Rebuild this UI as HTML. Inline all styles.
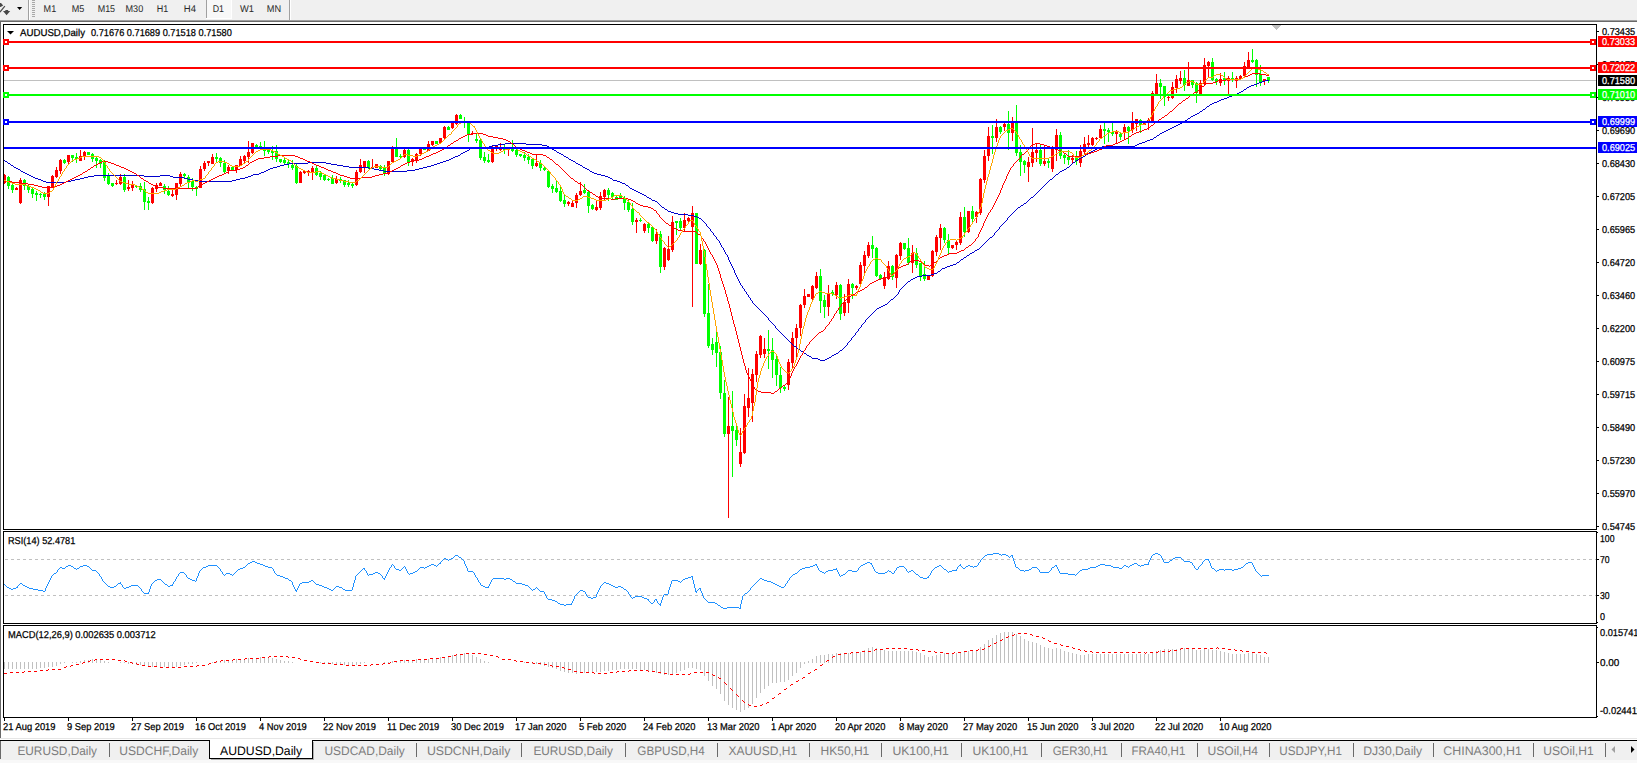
<!DOCTYPE html><html><head><meta charset="utf-8"><title>AUDUSD</title><style>html,body{margin:0;padding:0;background:#f0f0f0;overflow:hidden}svg{display:block}text{font-family:"Liberation Sans",sans-serif;white-space:pre;text-rendering:geometricPrecision}</style></head><body><svg width="1637" height="763" viewBox="0 0 1637 763"><rect x="0" y="0" width="1637" height="763" fill="#f0f0f0"/>
<rect x="0" y="20" width="1637" height="1" fill="#a0a0a0"/>
<rect x="0" y="21" width="1637" height="1" fill="#696969"/>
<rect x="0" y="22" width="1637" height="718" fill="#ffffff"/>
<rect x="0" y="21" width="1" height="718" fill="#696969"/>
<rect x="0" y="738" width="1637" height="1" fill="#e6e6e6"/>
<rect x="0" y="740" width="1637" height="1" fill="#000000"/>
<rect x="0" y="741" width="1637" height="19" fill="#f0f0f0"/>
<rect x="0" y="760" width="1637" height="3" fill="#f8f8f8"/>
<rect x="0" y="741" width="1" height="18" fill="#696969"/>
<g fill="#484848"><path d="M0 11 L4.4 5.8 L5.3 6.6 L0.6 12.2 L0 12.4 Z"/><path d="M0 3 L1 3 L3.2 5.4 L0.6 7 L0 7 Z"/><path d="M3 11.1 L5.2 10.9 L5.5 10 L8 10 L8.3 10.9 L10.2 11.1 L6.6 15.2 Z"/></g>
<path d="M17 7 L22.2 7 L19.6 10 Z" fill="#000"/>
<rect x="28" y="0" width="1" height="20" fill="#a0a0a0"/>
<rect x="29" y="0" width="1" height="20" fill="#ffffff"/>
<rect x="32" y="0" width="3" height="1" fill="#a8a8a8"/>
<rect x="32" y="2" width="3" height="1" fill="#a8a8a8"/>
<rect x="32" y="4" width="3" height="1" fill="#a8a8a8"/>
<rect x="32" y="6" width="3" height="1" fill="#a8a8a8"/>
<rect x="32" y="8" width="3" height="1" fill="#a8a8a8"/>
<rect x="32" y="10" width="3" height="1" fill="#a8a8a8"/>
<rect x="32" y="12" width="3" height="1" fill="#a8a8a8"/>
<rect x="32" y="14" width="3" height="1" fill="#a8a8a8"/>
<rect x="32" y="16" width="3" height="1" fill="#a8a8a8"/>
<rect x="206" y="0" width="1" height="18" fill="#a0a0a0"/>
<rect x="207" y="0" width="24" height="18" fill="#f8f8f8"/>
<rect x="206" y="18" width="26" height="1" fill="#ffffff"/>
<rect x="231" y="0" width="1" height="18" fill="#ffffff"/>
<rect x="289" y="0" width="1" height="20" fill="#a0a0a0"/>
<rect x="290" y="0" width="1" height="20" fill="#ffffff"/>
<text x="43.6" y="12" font-size="9.8" fill="#282828" textLength="12.6" lengthAdjust="spacingAndGlyphs">M1</text>
<text x="71.7" y="12" font-size="9.8" fill="#282828" textLength="12.6" lengthAdjust="spacingAndGlyphs">M5</text>
<text x="97.7" y="12" font-size="9.8" fill="#282828" textLength="17.4" lengthAdjust="spacingAndGlyphs">M15</text>
<text x="125.5" y="12" font-size="9.8" fill="#282828" textLength="17.7" lengthAdjust="spacingAndGlyphs">M30</text>
<text x="156.7" y="12" font-size="9.8" fill="#282828" textLength="11.5" lengthAdjust="spacingAndGlyphs">H1</text>
<text x="183.8" y="12" font-size="9.8" fill="#282828" textLength="12.2" lengthAdjust="spacingAndGlyphs">H4</text>
<text x="212.7" y="12" font-size="9.8" fill="#282828" textLength="11.3" lengthAdjust="spacingAndGlyphs">D1</text>
<text x="239.9" y="12" font-size="9.8" fill="#282828" textLength="14.0" lengthAdjust="spacingAndGlyphs">W1</text>
<text x="266.8" y="12" font-size="9.8" fill="#282828" textLength="14.3" lengthAdjust="spacingAndGlyphs">MN</text>
<rect x="3" y="24" width="1594" height="1" fill="#000000"/>
<rect x="3" y="529" width="1594" height="1" fill="#000000"/>
<rect x="3" y="24" width="1" height="506" fill="#000000"/>
<rect x="1596" y="24" width="1" height="506" fill="#000000"/>
<rect x="3" y="531" width="1594" height="1" fill="#000000"/>
<rect x="3" y="623" width="1594" height="1" fill="#000000"/>
<rect x="3" y="531" width="1" height="93" fill="#000000"/>
<rect x="1596" y="531" width="1" height="93" fill="#000000"/>
<rect x="3" y="625" width="1594" height="1" fill="#000000"/>
<rect x="3" y="717" width="1594" height="1" fill="#000000"/>
<rect x="3" y="625" width="1" height="93" fill="#000000"/>
<rect x="1596" y="625" width="1" height="93" fill="#000000"/>
<g shape-rendering="crispEdges">
<rect x="4" y="80" width="1592" height="1" fill="#c0c0c0"/>
<rect x="4" y="174" width="1" height="10" fill="#ff0000"/>
<rect x="4" y="175" width="2" height="8" fill="#ff0000"/>
<rect x="8" y="176" width="1" height="13" fill="#00ff00"/>
<rect x="7" y="177" width="3" height="9" fill="#00ff00"/>
<rect x="12" y="183" width="1" height="10" fill="#00ff00"/>
<rect x="11" y="185" width="3" height="5" fill="#00ff00"/>
<rect x="16" y="187" width="1" height="3" fill="#ff0000"/>
<rect x="15" y="188" width="3" height="2" fill="#ff0000"/>
<rect x="20" y="178" width="1" height="26" fill="#ff0000"/>
<rect x="19" y="180" width="3" height="23" fill="#ff0000"/>
<rect x="24" y="179" width="1" height="11" fill="#00ff00"/>
<rect x="23" y="180" width="3" height="6" fill="#00ff00"/>
<rect x="28" y="185" width="1" height="8" fill="#00ff00"/>
<rect x="27" y="186" width="3" height="4" fill="#00ff00"/>
<rect x="32" y="188" width="1" height="10" fill="#00ff00"/>
<rect x="31" y="189" width="3" height="5" fill="#00ff00"/>
<rect x="36" y="191" width="1" height="10" fill="#00ff00"/>
<rect x="35" y="193" width="3" height="2" fill="#00ff00"/>
<rect x="40" y="193" width="1" height="5" fill="#00ff00"/>
<rect x="39" y="194" width="3" height="1" fill="#00ff00"/>
<rect x="44" y="192" width="1" height="8" fill="#00ff00"/>
<rect x="43" y="194" width="3" height="3" fill="#00ff00"/>
<rect x="48" y="186" width="1" height="20" fill="#ff0000"/>
<rect x="47" y="186" width="3" height="11" fill="#ff0000"/>
<rect x="52" y="175" width="1" height="13" fill="#ff0000"/>
<rect x="51" y="176" width="3" height="12" fill="#ff0000"/>
<rect x="56" y="167" width="1" height="11" fill="#ff0000"/>
<rect x="55" y="170" width="3" height="7" fill="#ff0000"/>
<rect x="60" y="159" width="1" height="15" fill="#ff0000"/>
<rect x="59" y="160" width="3" height="11" fill="#ff0000"/>
<rect x="64" y="159" width="1" height="5" fill="#00ff00"/>
<rect x="63" y="160" width="3" height="3" fill="#00ff00"/>
<rect x="68" y="155" width="1" height="10" fill="#ff0000"/>
<rect x="67" y="155" width="3" height="7" fill="#ff0000"/>
<rect x="72" y="155" width="1" height="7" fill="#00ff00"/>
<rect x="71" y="155" width="3" height="3" fill="#00ff00"/>
<rect x="76" y="153" width="1" height="10" fill="#00ff00"/>
<rect x="75" y="157" width="3" height="2" fill="#00ff00"/>
<rect x="80" y="150" width="1" height="11" fill="#ff0000"/>
<rect x="79" y="156" width="3" height="5" fill="#ff0000"/>
<rect x="84" y="151" width="1" height="9" fill="#ff0000"/>
<rect x="83" y="152" width="3" height="4" fill="#ff0000"/>
<rect x="88" y="152" width="1" height="3" fill="#00ff00"/>
<rect x="87" y="152" width="3" height="3" fill="#00ff00"/>
<rect x="92" y="153" width="1" height="9" fill="#00ff00"/>
<rect x="91" y="154" width="3" height="5" fill="#00ff00"/>
<rect x="96" y="157" width="1" height="11" fill="#00ff00"/>
<rect x="95" y="158" width="3" height="3" fill="#00ff00"/>
<rect x="100" y="159" width="1" height="9" fill="#00ff00"/>
<rect x="99" y="160" width="3" height="4" fill="#00ff00"/>
<rect x="104" y="160" width="1" height="21" fill="#00ff00"/>
<rect x="103" y="162" width="3" height="16" fill="#00ff00"/>
<rect x="108" y="173" width="1" height="12" fill="#00ff00"/>
<rect x="107" y="175" width="3" height="9" fill="#00ff00"/>
<rect x="112" y="183" width="1" height="4" fill="#00ff00"/>
<rect x="111" y="183" width="3" height="3" fill="#00ff00"/>
<rect x="116" y="180" width="1" height="5" fill="#ff0000"/>
<rect x="115" y="183" width="3" height="1" fill="#ff0000"/>
<rect x="120" y="174" width="1" height="11" fill="#ff0000"/>
<rect x="119" y="177" width="3" height="7" fill="#ff0000"/>
<rect x="124" y="174" width="1" height="18" fill="#00ff00"/>
<rect x="123" y="177" width="3" height="13" fill="#00ff00"/>
<rect x="128" y="180" width="1" height="11" fill="#ff0000"/>
<rect x="127" y="187" width="3" height="2" fill="#ff0000"/>
<rect x="132" y="181" width="1" height="10" fill="#ff0000"/>
<rect x="131" y="184" width="3" height="4" fill="#ff0000"/>
<rect x="136" y="185" width="1" height="3" fill="#00ff00"/>
<rect x="135" y="186" width="3" height="1" fill="#00ff00"/>
<rect x="140" y="183" width="1" height="9" fill="#00ff00"/>
<rect x="139" y="186" width="3" height="4" fill="#00ff00"/>
<rect x="144" y="182" width="1" height="28" fill="#00ff00"/>
<rect x="143" y="189" width="3" height="13" fill="#00ff00"/>
<rect x="148" y="197" width="1" height="13" fill="#00ff00"/>
<rect x="147" y="201" width="3" height="2" fill="#00ff00"/>
<rect x="152" y="187" width="1" height="17" fill="#ff0000"/>
<rect x="151" y="188" width="3" height="15" fill="#ff0000"/>
<rect x="156" y="183" width="1" height="9" fill="#ff0000"/>
<rect x="155" y="185" width="3" height="4" fill="#ff0000"/>
<rect x="160" y="182" width="1" height="4" fill="#ff0000"/>
<rect x="159" y="183" width="3" height="3" fill="#ff0000"/>
<rect x="164" y="184" width="1" height="10" fill="#00ff00"/>
<rect x="163" y="186" width="3" height="4" fill="#00ff00"/>
<rect x="168" y="186" width="1" height="10" fill="#00ff00"/>
<rect x="167" y="191" width="3" height="4" fill="#00ff00"/>
<rect x="172" y="188" width="1" height="9" fill="#ff0000"/>
<rect x="171" y="194" width="3" height="2" fill="#ff0000"/>
<rect x="176" y="183" width="1" height="17" fill="#ff0000"/>
<rect x="175" y="183" width="3" height="12" fill="#ff0000"/>
<rect x="180" y="172" width="1" height="15" fill="#ff0000"/>
<rect x="179" y="174" width="3" height="10" fill="#ff0000"/>
<rect x="184" y="173" width="1" height="5" fill="#00ff00"/>
<rect x="183" y="174" width="3" height="2" fill="#00ff00"/>
<rect x="188" y="175" width="1" height="13" fill="#00ff00"/>
<rect x="187" y="177" width="3" height="5" fill="#00ff00"/>
<rect x="192" y="178" width="1" height="13" fill="#00ff00"/>
<rect x="191" y="181" width="3" height="6" fill="#00ff00"/>
<rect x="196" y="186" width="1" height="10" fill="#00ff00"/>
<rect x="195" y="187" width="3" height="2" fill="#00ff00"/>
<rect x="200" y="166" width="1" height="22" fill="#ff0000"/>
<rect x="199" y="169" width="3" height="19" fill="#ff0000"/>
<rect x="204" y="161" width="1" height="10" fill="#ff0000"/>
<rect x="203" y="163" width="3" height="6" fill="#ff0000"/>
<rect x="208" y="161" width="1" height="5" fill="#ff0000"/>
<rect x="207" y="161" width="3" height="2" fill="#ff0000"/>
<rect x="212" y="154" width="1" height="10" fill="#ff0000"/>
<rect x="211" y="157" width="3" height="7" fill="#ff0000"/>
<rect x="216" y="153" width="1" height="9" fill="#00ff00"/>
<rect x="215" y="157" width="3" height="2" fill="#00ff00"/>
<rect x="220" y="157" width="1" height="10" fill="#00ff00"/>
<rect x="219" y="158" width="3" height="5" fill="#00ff00"/>
<rect x="224" y="160" width="1" height="13" fill="#00ff00"/>
<rect x="223" y="163" width="3" height="9" fill="#00ff00"/>
<rect x="228" y="165" width="1" height="9" fill="#ff0000"/>
<rect x="227" y="167" width="3" height="4" fill="#ff0000"/>
<rect x="232" y="167" width="1" height="3" fill="#00ff00"/>
<rect x="231" y="167" width="3" height="3" fill="#00ff00"/>
<rect x="236" y="165" width="1" height="8" fill="#ff0000"/>
<rect x="235" y="165" width="3" height="5" fill="#ff0000"/>
<rect x="240" y="156" width="1" height="10" fill="#ff0000"/>
<rect x="239" y="159" width="3" height="7" fill="#ff0000"/>
<rect x="244" y="155" width="1" height="8" fill="#ff0000"/>
<rect x="243" y="156" width="3" height="5" fill="#ff0000"/>
<rect x="248" y="141" width="1" height="22" fill="#ff0000"/>
<rect x="247" y="152" width="3" height="5" fill="#ff0000"/>
<rect x="252" y="143" width="1" height="11" fill="#ff0000"/>
<rect x="251" y="143" width="3" height="10" fill="#ff0000"/>
<rect x="256" y="144" width="1" height="4" fill="#00ff00"/>
<rect x="255" y="145" width="3" height="3" fill="#00ff00"/>
<rect x="260" y="142" width="1" height="7" fill="#00ff00"/>
<rect x="259" y="146" width="3" height="2" fill="#00ff00"/>
<rect x="264" y="141" width="1" height="15" fill="#00ff00"/>
<rect x="263" y="149" width="3" height="2" fill="#00ff00"/>
<rect x="268" y="149" width="1" height="5" fill="#00ff00"/>
<rect x="267" y="150" width="3" height="2" fill="#00ff00"/>
<rect x="272" y="146" width="1" height="14" fill="#00ff00"/>
<rect x="271" y="151" width="3" height="2" fill="#00ff00"/>
<rect x="276" y="145" width="1" height="17" fill="#00ff00"/>
<rect x="275" y="151" width="3" height="8" fill="#00ff00"/>
<rect x="280" y="159" width="1" height="4" fill="#00ff00"/>
<rect x="279" y="159" width="3" height="3" fill="#00ff00"/>
<rect x="284" y="158" width="1" height="6" fill="#00ff00"/>
<rect x="283" y="160" width="3" height="3" fill="#00ff00"/>
<rect x="288" y="160" width="1" height="8" fill="#00ff00"/>
<rect x="287" y="162" width="3" height="2" fill="#00ff00"/>
<rect x="292" y="160" width="1" height="10" fill="#00ff00"/>
<rect x="291" y="165" width="3" height="3" fill="#00ff00"/>
<rect x="296" y="164" width="1" height="20" fill="#00ff00"/>
<rect x="295" y="166" width="3" height="17" fill="#00ff00"/>
<rect x="300" y="171" width="1" height="12" fill="#ff0000"/>
<rect x="299" y="172" width="3" height="11" fill="#ff0000"/>
<rect x="304" y="171" width="1" height="3" fill="#ff0000"/>
<rect x="303" y="171" width="3" height="2" fill="#ff0000"/>
<rect x="308" y="170" width="1" height="6" fill="#ff0000"/>
<rect x="307" y="171" width="3" height="2" fill="#ff0000"/>
<rect x="312" y="166" width="1" height="14" fill="#ff0000"/>
<rect x="311" y="168" width="3" height="5" fill="#ff0000"/>
<rect x="316" y="166" width="1" height="10" fill="#00ff00"/>
<rect x="315" y="168" width="3" height="7" fill="#00ff00"/>
<rect x="320" y="171" width="1" height="9" fill="#00ff00"/>
<rect x="319" y="173" width="3" height="4" fill="#00ff00"/>
<rect x="324" y="175" width="1" height="6" fill="#00ff00"/>
<rect x="323" y="175" width="3" height="5" fill="#00ff00"/>
<rect x="328" y="178" width="1" height="3" fill="#00ff00"/>
<rect x="327" y="179" width="3" height="1" fill="#00ff00"/>
<rect x="332" y="175" width="1" height="9" fill="#00ff00"/>
<rect x="331" y="178" width="3" height="6" fill="#00ff00"/>
<rect x="336" y="176" width="1" height="8" fill="#ff0000"/>
<rect x="335" y="179" width="3" height="4" fill="#ff0000"/>
<rect x="340" y="177" width="1" height="6" fill="#00ff00"/>
<rect x="339" y="179" width="3" height="2" fill="#00ff00"/>
<rect x="344" y="180" width="1" height="7" fill="#00ff00"/>
<rect x="343" y="180" width="3" height="5" fill="#00ff00"/>
<rect x="348" y="180" width="1" height="7" fill="#00ff00"/>
<rect x="347" y="183" width="3" height="2" fill="#00ff00"/>
<rect x="352" y="183" width="1" height="5" fill="#00ff00"/>
<rect x="351" y="184" width="3" height="2" fill="#00ff00"/>
<rect x="356" y="170" width="1" height="16" fill="#ff0000"/>
<rect x="355" y="172" width="3" height="13" fill="#ff0000"/>
<rect x="360" y="159" width="1" height="14" fill="#ff0000"/>
<rect x="359" y="165" width="3" height="7" fill="#ff0000"/>
<rect x="364" y="161" width="1" height="12" fill="#ff0000"/>
<rect x="363" y="161" width="3" height="6" fill="#ff0000"/>
<rect x="368" y="160" width="1" height="9" fill="#00ff00"/>
<rect x="367" y="161" width="3" height="7" fill="#00ff00"/>
<rect x="372" y="159" width="1" height="10" fill="#ff0000"/>
<rect x="371" y="167" width="3" height="1" fill="#ff0000"/>
<rect x="376" y="164" width="1" height="4" fill="#ff0000"/>
<rect x="375" y="164" width="3" height="4" fill="#ff0000"/>
<rect x="380" y="165" width="1" height="5" fill="#00ff00"/>
<rect x="379" y="166" width="3" height="3" fill="#00ff00"/>
<rect x="384" y="165" width="1" height="11" fill="#00ff00"/>
<rect x="383" y="168" width="3" height="6" fill="#00ff00"/>
<rect x="388" y="161" width="1" height="14" fill="#ff0000"/>
<rect x="387" y="161" width="3" height="13" fill="#ff0000"/>
<rect x="392" y="146" width="1" height="16" fill="#ff0000"/>
<rect x="391" y="149" width="3" height="13" fill="#ff0000"/>
<rect x="396" y="138" width="1" height="19" fill="#00ff00"/>
<rect x="395" y="149" width="3" height="8" fill="#00ff00"/>
<rect x="400" y="154" width="1" height="5" fill="#00ff00"/>
<rect x="399" y="156" width="3" height="1" fill="#00ff00"/>
<rect x="404" y="149" width="1" height="9" fill="#ff0000"/>
<rect x="403" y="150" width="3" height="7" fill="#ff0000"/>
<rect x="408" y="149" width="1" height="17" fill="#00ff00"/>
<rect x="407" y="150" width="3" height="12" fill="#00ff00"/>
<rect x="412" y="158" width="1" height="8" fill="#ff0000"/>
<rect x="411" y="159" width="3" height="3" fill="#ff0000"/>
<rect x="416" y="153" width="1" height="10" fill="#ff0000"/>
<rect x="415" y="154" width="3" height="6" fill="#ff0000"/>
<rect x="420" y="149" width="1" height="7" fill="#ff0000"/>
<rect x="419" y="149" width="3" height="5" fill="#ff0000"/>
<rect x="424" y="148" width="1" height="2" fill="#00ff00"/>
<rect x="423" y="149" width="3" height="1" fill="#00ff00"/>
<rect x="428" y="141" width="1" height="10" fill="#ff0000"/>
<rect x="427" y="144" width="3" height="7" fill="#ff0000"/>
<rect x="432" y="141" width="1" height="5" fill="#ff0000"/>
<rect x="431" y="141" width="3" height="4" fill="#ff0000"/>
<rect x="436" y="141" width="1" height="3" fill="#00ff00"/>
<rect x="435" y="141" width="3" height="3" fill="#00ff00"/>
<rect x="440" y="138" width="1" height="6" fill="#ff0000"/>
<rect x="439" y="138" width="3" height="5" fill="#ff0000"/>
<rect x="444" y="126" width="1" height="13" fill="#ff0000"/>
<rect x="443" y="127" width="3" height="11" fill="#ff0000"/>
<rect x="448" y="126" width="1" height="4" fill="#00ff00"/>
<rect x="447" y="127" width="3" height="3" fill="#00ff00"/>
<rect x="452" y="123" width="1" height="6" fill="#ff0000"/>
<rect x="451" y="123" width="3" height="5" fill="#ff0000"/>
<rect x="456" y="114" width="1" height="11" fill="#ff0000"/>
<rect x="455" y="115" width="3" height="9" fill="#ff0000"/>
<rect x="460" y="114" width="1" height="5" fill="#00ff00"/>
<rect x="459" y="115" width="3" height="4" fill="#00ff00"/>
<rect x="464" y="117" width="1" height="11" fill="#00ff00"/>
<rect x="463" y="121" width="3" height="1" fill="#00ff00"/>
<rect x="468" y="123" width="1" height="19" fill="#00ff00"/>
<rect x="467" y="123" width="3" height="11" fill="#00ff00"/>
<rect x="472" y="131" width="1" height="4" fill="#ff0000"/>
<rect x="471" y="133" width="3" height="1" fill="#ff0000"/>
<rect x="476" y="134" width="1" height="9" fill="#00ff00"/>
<rect x="475" y="139" width="3" height="2" fill="#00ff00"/>
<rect x="480" y="139" width="1" height="21" fill="#00ff00"/>
<rect x="479" y="140" width="3" height="18" fill="#00ff00"/>
<rect x="484" y="152" width="1" height="11" fill="#00ff00"/>
<rect x="483" y="157" width="3" height="4" fill="#00ff00"/>
<rect x="488" y="154" width="1" height="9" fill="#00ff00"/>
<rect x="487" y="160" width="3" height="2" fill="#00ff00"/>
<rect x="492" y="146" width="1" height="17" fill="#ff0000"/>
<rect x="491" y="147" width="3" height="15" fill="#ff0000"/>
<rect x="496" y="146" width="1" height="5" fill="#ff0000"/>
<rect x="495" y="146" width="3" height="1" fill="#ff0000"/>
<rect x="500" y="143" width="1" height="8" fill="#ff0000"/>
<rect x="499" y="147" width="3" height="3" fill="#ff0000"/>
<rect x="504" y="145" width="1" height="9" fill="#00ff00"/>
<rect x="503" y="148" width="3" height="2" fill="#00ff00"/>
<rect x="508" y="147" width="1" height="9" fill="#ff0000"/>
<rect x="507" y="147" width="3" height="2" fill="#ff0000"/>
<rect x="512" y="140" width="1" height="12" fill="#00ff00"/>
<rect x="511" y="149" width="3" height="2" fill="#00ff00"/>
<rect x="516" y="149" width="1" height="8" fill="#00ff00"/>
<rect x="515" y="150" width="3" height="5" fill="#00ff00"/>
<rect x="520" y="154" width="1" height="3" fill="#00ff00"/>
<rect x="519" y="154" width="3" height="2" fill="#00ff00"/>
<rect x="524" y="152" width="1" height="9" fill="#00ff00"/>
<rect x="523" y="155" width="3" height="3" fill="#00ff00"/>
<rect x="528" y="154" width="1" height="10" fill="#00ff00"/>
<rect x="527" y="157" width="3" height="3" fill="#00ff00"/>
<rect x="532" y="159" width="1" height="10" fill="#00ff00"/>
<rect x="531" y="159" width="3" height="7" fill="#00ff00"/>
<rect x="536" y="155" width="1" height="12" fill="#ff0000"/>
<rect x="535" y="163" width="3" height="3" fill="#ff0000"/>
<rect x="540" y="160" width="1" height="11" fill="#00ff00"/>
<rect x="539" y="163" width="3" height="5" fill="#00ff00"/>
<rect x="544" y="167" width="1" height="4" fill="#00ff00"/>
<rect x="543" y="168" width="3" height="2" fill="#00ff00"/>
<rect x="548" y="171" width="1" height="17" fill="#00ff00"/>
<rect x="547" y="171" width="3" height="16" fill="#00ff00"/>
<rect x="552" y="184" width="1" height="9" fill="#00ff00"/>
<rect x="551" y="186" width="3" height="3" fill="#00ff00"/>
<rect x="556" y="181" width="1" height="12" fill="#00ff00"/>
<rect x="555" y="188" width="3" height="4" fill="#00ff00"/>
<rect x="560" y="185" width="1" height="17" fill="#00ff00"/>
<rect x="559" y="191" width="3" height="10" fill="#00ff00"/>
<rect x="564" y="195" width="1" height="12" fill="#00ff00"/>
<rect x="563" y="200" width="3" height="4" fill="#00ff00"/>
<rect x="568" y="201" width="1" height="5" fill="#ff0000"/>
<rect x="567" y="202" width="3" height="2" fill="#ff0000"/>
<rect x="572" y="201" width="1" height="6" fill="#ff0000"/>
<rect x="571" y="203" width="3" height="4" fill="#ff0000"/>
<rect x="576" y="193" width="1" height="15" fill="#ff0000"/>
<rect x="575" y="195" width="3" height="8" fill="#ff0000"/>
<rect x="580" y="182" width="1" height="14" fill="#ff0000"/>
<rect x="579" y="191" width="3" height="4" fill="#ff0000"/>
<rect x="584" y="184" width="1" height="10" fill="#00ff00"/>
<rect x="583" y="190" width="3" height="3" fill="#00ff00"/>
<rect x="588" y="191" width="1" height="22" fill="#00ff00"/>
<rect x="587" y="192" width="3" height="14" fill="#00ff00"/>
<rect x="592" y="204" width="1" height="6" fill="#00ff00"/>
<rect x="591" y="205" width="3" height="4" fill="#00ff00"/>
<rect x="596" y="201" width="1" height="10" fill="#ff0000"/>
<rect x="595" y="207" width="3" height="3" fill="#ff0000"/>
<rect x="600" y="192" width="1" height="18" fill="#ff0000"/>
<rect x="599" y="196" width="3" height="12" fill="#ff0000"/>
<rect x="604" y="189" width="1" height="11" fill="#ff0000"/>
<rect x="603" y="190" width="3" height="7" fill="#ff0000"/>
<rect x="608" y="188" width="1" height="13" fill="#00ff00"/>
<rect x="607" y="190" width="3" height="5" fill="#00ff00"/>
<rect x="612" y="192" width="1" height="7" fill="#00ff00"/>
<rect x="611" y="193" width="3" height="4" fill="#00ff00"/>
<rect x="616" y="196" width="1" height="4" fill="#00ff00"/>
<rect x="615" y="197" width="3" height="3" fill="#00ff00"/>
<rect x="620" y="193" width="1" height="5" fill="#00ff00"/>
<rect x="619" y="196" width="3" height="2" fill="#00ff00"/>
<rect x="624" y="196" width="1" height="14" fill="#00ff00"/>
<rect x="623" y="199" width="3" height="4" fill="#00ff00"/>
<rect x="628" y="200" width="1" height="12" fill="#00ff00"/>
<rect x="627" y="202" width="3" height="8" fill="#00ff00"/>
<rect x="632" y="203" width="1" height="22" fill="#00ff00"/>
<rect x="631" y="209" width="3" height="13" fill="#00ff00"/>
<rect x="636" y="218" width="1" height="15" fill="#ff0000"/>
<rect x="635" y="220" width="3" height="2" fill="#ff0000"/>
<rect x="640" y="218" width="1" height="4" fill="#00ff00"/>
<rect x="639" y="220" width="3" height="1" fill="#00ff00"/>
<rect x="644" y="223" width="1" height="10" fill="#ff0000"/>
<rect x="643" y="224" width="3" height="7" fill="#ff0000"/>
<rect x="648" y="223" width="1" height="10" fill="#00ff00"/>
<rect x="647" y="224" width="3" height="4" fill="#00ff00"/>
<rect x="652" y="227" width="1" height="15" fill="#00ff00"/>
<rect x="651" y="227" width="3" height="14" fill="#00ff00"/>
<rect x="656" y="229" width="1" height="15" fill="#ff0000"/>
<rect x="655" y="234" width="3" height="7" fill="#ff0000"/>
<rect x="660" y="231" width="1" height="42" fill="#00ff00"/>
<rect x="659" y="234" width="3" height="33" fill="#00ff00"/>
<rect x="664" y="247" width="1" height="23" fill="#ff0000"/>
<rect x="663" y="248" width="3" height="19" fill="#ff0000"/>
<rect x="668" y="236" width="1" height="25" fill="#ff0000"/>
<rect x="667" y="249" width="3" height="11" fill="#ff0000"/>
<rect x="672" y="216" width="1" height="36" fill="#ff0000"/>
<rect x="671" y="222" width="3" height="28" fill="#ff0000"/>
<rect x="676" y="221" width="1" height="14" fill="#00ff00"/>
<rect x="675" y="221" width="3" height="2" fill="#00ff00"/>
<rect x="680" y="218" width="1" height="13" fill="#00ff00"/>
<rect x="679" y="221" width="3" height="7" fill="#00ff00"/>
<rect x="684" y="213" width="1" height="19" fill="#ff0000"/>
<rect x="683" y="220" width="3" height="8" fill="#ff0000"/>
<rect x="688" y="217" width="1" height="5" fill="#ff0000"/>
<rect x="687" y="218" width="3" height="3" fill="#ff0000"/>
<rect x="692" y="206" width="1" height="101" fill="#ff0000"/>
<rect x="691" y="213" width="3" height="14" fill="#ff0000"/>
<rect x="696" y="213" width="1" height="51" fill="#00ff00"/>
<rect x="695" y="213" width="3" height="51" fill="#00ff00"/>
<rect x="700" y="244" width="1" height="21" fill="#ff0000"/>
<rect x="699" y="250" width="3" height="14" fill="#ff0000"/>
<rect x="704" y="249" width="1" height="68" fill="#00ff00"/>
<rect x="703" y="250" width="3" height="64" fill="#00ff00"/>
<rect x="708" y="284" width="1" height="64" fill="#00ff00"/>
<rect x="707" y="313" width="3" height="33" fill="#00ff00"/>
<rect x="712" y="338" width="1" height="17" fill="#00ff00"/>
<rect x="711" y="344" width="3" height="6" fill="#00ff00"/>
<rect x="716" y="329" width="1" height="38" fill="#00ff00"/>
<rect x="715" y="342" width="3" height="11" fill="#00ff00"/>
<rect x="720" y="346" width="1" height="53" fill="#00ff00"/>
<rect x="719" y="352" width="3" height="41" fill="#00ff00"/>
<rect x="724" y="380" width="1" height="57" fill="#00ff00"/>
<rect x="723" y="393" width="3" height="41" fill="#00ff00"/>
<rect x="728" y="397" width="1" height="121" fill="#ff0000"/>
<rect x="727" y="426" width="3" height="8" fill="#ff0000"/>
<rect x="732" y="391" width="1" height="86" fill="#00ff00"/>
<rect x="731" y="426" width="3" height="5" fill="#00ff00"/>
<rect x="736" y="426" width="1" height="20" fill="#00ff00"/>
<rect x="735" y="430" width="3" height="10" fill="#00ff00"/>
<rect x="740" y="428" width="1" height="39" fill="#ff0000"/>
<rect x="739" y="452" width="3" height="12" fill="#ff0000"/>
<rect x="744" y="394" width="1" height="60" fill="#ff0000"/>
<rect x="743" y="406" width="3" height="47" fill="#ff0000"/>
<rect x="748" y="368" width="1" height="49" fill="#ff0000"/>
<rect x="747" y="398" width="3" height="10" fill="#ff0000"/>
<rect x="752" y="369" width="1" height="53" fill="#ff0000"/>
<rect x="751" y="374" width="3" height="29" fill="#ff0000"/>
<rect x="756" y="351" width="1" height="31" fill="#ff0000"/>
<rect x="755" y="354" width="3" height="21" fill="#ff0000"/>
<rect x="760" y="335" width="1" height="23" fill="#ff0000"/>
<rect x="759" y="336" width="3" height="19" fill="#ff0000"/>
<rect x="764" y="338" width="1" height="20" fill="#ff0000"/>
<rect x="763" y="349" width="3" height="5" fill="#ff0000"/>
<rect x="768" y="330" width="1" height="39" fill="#00ff00"/>
<rect x="767" y="349" width="3" height="2" fill="#00ff00"/>
<rect x="772" y="338" width="1" height="40" fill="#00ff00"/>
<rect x="771" y="350" width="3" height="10" fill="#00ff00"/>
<rect x="776" y="356" width="1" height="30" fill="#00ff00"/>
<rect x="775" y="359" width="3" height="16" fill="#00ff00"/>
<rect x="780" y="367" width="1" height="26" fill="#00ff00"/>
<rect x="779" y="375" width="3" height="13" fill="#00ff00"/>
<rect x="784" y="385" width="1" height="6" fill="#00ff00"/>
<rect x="783" y="387" width="3" height="2" fill="#00ff00"/>
<rect x="788" y="359" width="1" height="31" fill="#ff0000"/>
<rect x="787" y="362" width="3" height="23" fill="#ff0000"/>
<rect x="792" y="332" width="1" height="37" fill="#ff0000"/>
<rect x="791" y="338" width="3" height="25" fill="#ff0000"/>
<rect x="796" y="324" width="1" height="33" fill="#ff0000"/>
<rect x="795" y="328" width="3" height="10" fill="#ff0000"/>
<rect x="800" y="304" width="1" height="32" fill="#ff0000"/>
<rect x="799" y="305" width="3" height="23" fill="#ff0000"/>
<rect x="804" y="289" width="1" height="19" fill="#ff0000"/>
<rect x="803" y="296" width="3" height="9" fill="#ff0000"/>
<rect x="808" y="294" width="1" height="3" fill="#ff0000"/>
<rect x="807" y="294" width="3" height="3" fill="#ff0000"/>
<rect x="812" y="285" width="1" height="16" fill="#ff0000"/>
<rect x="811" y="286" width="3" height="13" fill="#ff0000"/>
<rect x="816" y="272" width="1" height="17" fill="#ff0000"/>
<rect x="815" y="276" width="3" height="12" fill="#ff0000"/>
<rect x="820" y="269" width="1" height="44" fill="#00ff00"/>
<rect x="819" y="276" width="3" height="25" fill="#00ff00"/>
<rect x="824" y="295" width="1" height="23" fill="#00ff00"/>
<rect x="823" y="300" width="3" height="7" fill="#00ff00"/>
<rect x="828" y="285" width="1" height="31" fill="#ff0000"/>
<rect x="827" y="293" width="3" height="14" fill="#ff0000"/>
<rect x="832" y="290" width="1" height="6" fill="#00ff00"/>
<rect x="831" y="292" width="3" height="2" fill="#00ff00"/>
<rect x="836" y="282" width="1" height="17" fill="#ff0000"/>
<rect x="835" y="285" width="3" height="10" fill="#ff0000"/>
<rect x="840" y="284" width="1" height="36" fill="#00ff00"/>
<rect x="839" y="285" width="3" height="29" fill="#00ff00"/>
<rect x="844" y="294" width="1" height="22" fill="#ff0000"/>
<rect x="843" y="302" width="3" height="11" fill="#ff0000"/>
<rect x="848" y="279" width="1" height="34" fill="#ff0000"/>
<rect x="847" y="284" width="3" height="19" fill="#ff0000"/>
<rect x="852" y="283" width="1" height="16" fill="#00ff00"/>
<rect x="851" y="284" width="3" height="4" fill="#00ff00"/>
<rect x="856" y="285" width="1" height="5" fill="#ff0000"/>
<rect x="855" y="286" width="3" height="2" fill="#ff0000"/>
<rect x="860" y="262" width="1" height="23" fill="#ff0000"/>
<rect x="859" y="265" width="3" height="19" fill="#ff0000"/>
<rect x="864" y="251" width="1" height="22" fill="#ff0000"/>
<rect x="863" y="255" width="3" height="11" fill="#ff0000"/>
<rect x="868" y="242" width="1" height="16" fill="#ff0000"/>
<rect x="867" y="245" width="3" height="11" fill="#ff0000"/>
<rect x="872" y="236" width="1" height="22" fill="#00ff00"/>
<rect x="871" y="245" width="3" height="4" fill="#00ff00"/>
<rect x="876" y="247" width="1" height="30" fill="#00ff00"/>
<rect x="875" y="248" width="3" height="28" fill="#00ff00"/>
<rect x="880" y="274" width="1" height="5" fill="#00ff00"/>
<rect x="879" y="275" width="3" height="4" fill="#00ff00"/>
<rect x="884" y="272" width="1" height="17" fill="#ff0000"/>
<rect x="883" y="277" width="3" height="9" fill="#ff0000"/>
<rect x="888" y="261" width="1" height="19" fill="#ff0000"/>
<rect x="887" y="266" width="3" height="13" fill="#ff0000"/>
<rect x="892" y="265" width="1" height="15" fill="#00ff00"/>
<rect x="891" y="266" width="3" height="11" fill="#00ff00"/>
<rect x="896" y="254" width="1" height="34" fill="#ff0000"/>
<rect x="895" y="255" width="3" height="23" fill="#ff0000"/>
<rect x="900" y="242" width="1" height="18" fill="#ff0000"/>
<rect x="899" y="243" width="3" height="13" fill="#ff0000"/>
<rect x="904" y="243" width="1" height="7" fill="#00ff00"/>
<rect x="903" y="243" width="3" height="6" fill="#00ff00"/>
<rect x="908" y="238" width="1" height="27" fill="#00ff00"/>
<rect x="907" y="248" width="3" height="15" fill="#00ff00"/>
<rect x="912" y="245" width="1" height="28" fill="#ff0000"/>
<rect x="911" y="253" width="3" height="10" fill="#ff0000"/>
<rect x="916" y="248" width="1" height="20" fill="#00ff00"/>
<rect x="915" y="253" width="3" height="12" fill="#00ff00"/>
<rect x="920" y="263" width="1" height="18" fill="#00ff00"/>
<rect x="919" y="263" width="3" height="13" fill="#00ff00"/>
<rect x="924" y="261" width="1" height="20" fill="#00ff00"/>
<rect x="923" y="274" width="3" height="5" fill="#00ff00"/>
<rect x="928" y="275" width="1" height="5" fill="#ff0000"/>
<rect x="927" y="276" width="3" height="4" fill="#ff0000"/>
<rect x="932" y="250" width="1" height="27" fill="#ff0000"/>
<rect x="931" y="251" width="3" height="25" fill="#ff0000"/>
<rect x="936" y="235" width="1" height="21" fill="#ff0000"/>
<rect x="935" y="237" width="3" height="15" fill="#ff0000"/>
<rect x="940" y="224" width="1" height="26" fill="#ff0000"/>
<rect x="939" y="228" width="3" height="10" fill="#ff0000"/>
<rect x="944" y="227" width="1" height="16" fill="#00ff00"/>
<rect x="943" y="228" width="3" height="12" fill="#00ff00"/>
<rect x="948" y="234" width="1" height="20" fill="#00ff00"/>
<rect x="947" y="240" width="3" height="8" fill="#00ff00"/>
<rect x="952" y="245" width="1" height="4" fill="#ff0000"/>
<rect x="951" y="245" width="3" height="3" fill="#ff0000"/>
<rect x="956" y="241" width="1" height="9" fill="#ff0000"/>
<rect x="955" y="242" width="3" height="3" fill="#ff0000"/>
<rect x="960" y="212" width="1" height="33" fill="#ff0000"/>
<rect x="959" y="217" width="3" height="26" fill="#ff0000"/>
<rect x="964" y="207" width="1" height="30" fill="#00ff00"/>
<rect x="963" y="217" width="3" height="15" fill="#00ff00"/>
<rect x="968" y="211" width="1" height="22" fill="#ff0000"/>
<rect x="967" y="211" width="3" height="21" fill="#ff0000"/>
<rect x="972" y="206" width="1" height="18" fill="#00ff00"/>
<rect x="971" y="211" width="3" height="8" fill="#00ff00"/>
<rect x="976" y="211" width="1" height="12" fill="#ff0000"/>
<rect x="975" y="212" width="3" height="5" fill="#ff0000"/>
<rect x="980" y="178" width="1" height="37" fill="#ff0000"/>
<rect x="979" y="179" width="3" height="34" fill="#ff0000"/>
<rect x="984" y="150" width="1" height="33" fill="#ff0000"/>
<rect x="983" y="156" width="3" height="24" fill="#ff0000"/>
<rect x="988" y="127" width="1" height="34" fill="#ff0000"/>
<rect x="987" y="136" width="3" height="20" fill="#ff0000"/>
<rect x="992" y="125" width="1" height="29" fill="#00ff00"/>
<rect x="991" y="136" width="3" height="2" fill="#00ff00"/>
<rect x="996" y="119" width="1" height="23" fill="#ff0000"/>
<rect x="995" y="127" width="3" height="11" fill="#ff0000"/>
<rect x="1000" y="126" width="1" height="8" fill="#00ff00"/>
<rect x="999" y="127" width="3" height="5" fill="#00ff00"/>
<rect x="1004" y="123" width="1" height="8" fill="#ff0000"/>
<rect x="1003" y="124" width="3" height="3" fill="#ff0000"/>
<rect x="1008" y="111" width="1" height="39" fill="#00ff00"/>
<rect x="1007" y="124" width="3" height="9" fill="#00ff00"/>
<rect x="1012" y="117" width="1" height="24" fill="#ff0000"/>
<rect x="1011" y="123" width="3" height="10" fill="#ff0000"/>
<rect x="1016" y="105" width="1" height="51" fill="#00ff00"/>
<rect x="1015" y="123" width="3" height="30" fill="#00ff00"/>
<rect x="1020" y="145" width="1" height="31" fill="#00ff00"/>
<rect x="1019" y="152" width="3" height="10" fill="#00ff00"/>
<rect x="1024" y="160" width="1" height="13" fill="#00ff00"/>
<rect x="1023" y="161" width="3" height="4" fill="#00ff00"/>
<rect x="1028" y="157" width="1" height="25" fill="#ff0000"/>
<rect x="1027" y="162" width="3" height="5" fill="#ff0000"/>
<rect x="1032" y="128" width="1" height="39" fill="#ff0000"/>
<rect x="1031" y="152" width="3" height="11" fill="#ff0000"/>
<rect x="1036" y="143" width="1" height="19" fill="#ff0000"/>
<rect x="1035" y="150" width="3" height="3" fill="#ff0000"/>
<rect x="1040" y="145" width="1" height="21" fill="#00ff00"/>
<rect x="1039" y="150" width="3" height="14" fill="#00ff00"/>
<rect x="1044" y="146" width="1" height="20" fill="#ff0000"/>
<rect x="1043" y="161" width="3" height="3" fill="#ff0000"/>
<rect x="1048" y="158" width="1" height="10" fill="#00ff00"/>
<rect x="1047" y="161" width="3" height="2" fill="#00ff00"/>
<rect x="1052" y="146" width="1" height="26" fill="#ff0000"/>
<rect x="1051" y="149" width="3" height="20" fill="#ff0000"/>
<rect x="1056" y="129" width="1" height="32" fill="#ff0000"/>
<rect x="1055" y="135" width="3" height="14" fill="#ff0000"/>
<rect x="1060" y="132" width="1" height="27" fill="#00ff00"/>
<rect x="1059" y="135" width="3" height="21" fill="#00ff00"/>
<rect x="1064" y="153" width="1" height="11" fill="#00ff00"/>
<rect x="1063" y="155" width="3" height="3" fill="#00ff00"/>
<rect x="1068" y="150" width="1" height="15" fill="#00ff00"/>
<rect x="1067" y="157" width="3" height="3" fill="#00ff00"/>
<rect x="1072" y="155" width="1" height="8" fill="#ff0000"/>
<rect x="1071" y="158" width="3" height="2" fill="#ff0000"/>
<rect x="1076" y="151" width="1" height="14" fill="#00ff00"/>
<rect x="1075" y="158" width="3" height="3" fill="#00ff00"/>
<rect x="1080" y="145" width="1" height="22" fill="#ff0000"/>
<rect x="1079" y="151" width="3" height="12" fill="#ff0000"/>
<rect x="1084" y="137" width="1" height="18" fill="#ff0000"/>
<rect x="1083" y="144" width="3" height="8" fill="#ff0000"/>
<rect x="1088" y="135" width="1" height="12" fill="#ff0000"/>
<rect x="1087" y="143" width="3" height="2" fill="#ff0000"/>
<rect x="1092" y="137" width="1" height="9" fill="#ff0000"/>
<rect x="1091" y="138" width="3" height="7" fill="#ff0000"/>
<rect x="1096" y="137" width="1" height="3" fill="#ff0000"/>
<rect x="1095" y="138" width="3" height="1" fill="#ff0000"/>
<rect x="1100" y="125" width="1" height="14" fill="#ff0000"/>
<rect x="1099" y="129" width="3" height="9" fill="#ff0000"/>
<rect x="1104" y="123" width="1" height="21" fill="#00ff00"/>
<rect x="1103" y="129" width="3" height="2" fill="#00ff00"/>
<rect x="1108" y="128" width="1" height="14" fill="#00ff00"/>
<rect x="1107" y="130" width="3" height="2" fill="#00ff00"/>
<rect x="1112" y="123" width="1" height="13" fill="#00ff00"/>
<rect x="1111" y="132" width="3" height="2" fill="#00ff00"/>
<rect x="1116" y="130" width="1" height="14" fill="#ff0000"/>
<rect x="1115" y="132" width="3" height="2" fill="#ff0000"/>
<rect x="1120" y="133" width="1" height="7" fill="#00ff00"/>
<rect x="1119" y="134" width="3" height="3" fill="#00ff00"/>
<rect x="1124" y="124" width="1" height="15" fill="#ff0000"/>
<rect x="1123" y="127" width="3" height="6" fill="#ff0000"/>
<rect x="1128" y="126" width="1" height="18" fill="#00ff00"/>
<rect x="1127" y="127" width="3" height="4" fill="#00ff00"/>
<rect x="1132" y="112" width="1" height="21" fill="#ff0000"/>
<rect x="1131" y="122" width="3" height="8" fill="#ff0000"/>
<rect x="1136" y="119" width="1" height="12" fill="#ff0000"/>
<rect x="1135" y="119" width="3" height="5" fill="#ff0000"/>
<rect x="1140" y="119" width="1" height="14" fill="#00ff00"/>
<rect x="1139" y="120" width="3" height="5" fill="#00ff00"/>
<rect x="1144" y="123" width="1" height="2" fill="#ff0000"/>
<rect x="1143" y="123" width="3" height="2" fill="#ff0000"/>
<rect x="1148" y="118" width="1" height="12" fill="#ff0000"/>
<rect x="1147" y="120" width="3" height="3" fill="#ff0000"/>
<rect x="1152" y="91" width="1" height="31" fill="#ff0000"/>
<rect x="1151" y="93" width="3" height="28" fill="#ff0000"/>
<rect x="1156" y="74" width="1" height="20" fill="#ff0000"/>
<rect x="1155" y="83" width="3" height="11" fill="#ff0000"/>
<rect x="1160" y="79" width="1" height="20" fill="#00ff00"/>
<rect x="1159" y="83" width="3" height="4" fill="#00ff00"/>
<rect x="1164" y="86" width="1" height="20" fill="#00ff00"/>
<rect x="1163" y="86" width="3" height="11" fill="#00ff00"/>
<rect x="1168" y="96" width="1" height="5" fill="#ff0000"/>
<rect x="1167" y="97" width="3" height="1" fill="#ff0000"/>
<rect x="1172" y="82" width="1" height="17" fill="#ff0000"/>
<rect x="1171" y="87" width="3" height="11" fill="#ff0000"/>
<rect x="1176" y="75" width="1" height="18" fill="#ff0000"/>
<rect x="1175" y="79" width="3" height="9" fill="#ff0000"/>
<rect x="1180" y="71" width="1" height="13" fill="#ff0000"/>
<rect x="1179" y="78" width="3" height="3" fill="#ff0000"/>
<rect x="1184" y="70" width="1" height="21" fill="#00ff00"/>
<rect x="1183" y="78" width="3" height="7" fill="#00ff00"/>
<rect x="1188" y="62" width="1" height="24" fill="#ff0000"/>
<rect x="1187" y="80" width="3" height="6" fill="#ff0000"/>
<rect x="1192" y="80" width="1" height="8" fill="#00ff00"/>
<rect x="1191" y="80" width="3" height="5" fill="#00ff00"/>
<rect x="1196" y="82" width="1" height="21" fill="#00ff00"/>
<rect x="1195" y="83" width="3" height="10" fill="#00ff00"/>
<rect x="1200" y="80" width="1" height="14" fill="#ff0000"/>
<rect x="1199" y="83" width="3" height="11" fill="#ff0000"/>
<rect x="1204" y="58" width="1" height="28" fill="#ff0000"/>
<rect x="1203" y="65" width="3" height="19" fill="#ff0000"/>
<rect x="1208" y="61" width="1" height="16" fill="#ff0000"/>
<rect x="1207" y="62" width="3" height="4" fill="#ff0000"/>
<rect x="1212" y="58" width="1" height="23" fill="#00ff00"/>
<rect x="1211" y="62" width="3" height="18" fill="#00ff00"/>
<rect x="1216" y="78" width="1" height="7" fill="#00ff00"/>
<rect x="1215" y="79" width="3" height="3" fill="#00ff00"/>
<rect x="1220" y="73" width="1" height="13" fill="#ff0000"/>
<rect x="1219" y="79" width="3" height="4" fill="#ff0000"/>
<rect x="1224" y="72" width="1" height="13" fill="#00ff00"/>
<rect x="1223" y="78" width="3" height="3" fill="#00ff00"/>
<rect x="1228" y="76" width="1" height="18" fill="#ff0000"/>
<rect x="1227" y="78" width="3" height="3" fill="#ff0000"/>
<rect x="1232" y="72" width="1" height="10" fill="#00ff00"/>
<rect x="1231" y="78" width="3" height="2" fill="#00ff00"/>
<rect x="1236" y="76" width="1" height="12" fill="#ff0000"/>
<rect x="1235" y="78" width="3" height="3" fill="#ff0000"/>
<rect x="1240" y="75" width="1" height="4" fill="#ff0000"/>
<rect x="1239" y="76" width="3" height="3" fill="#ff0000"/>
<rect x="1244" y="62" width="1" height="14" fill="#ff0000"/>
<rect x="1243" y="66" width="3" height="10" fill="#ff0000"/>
<rect x="1248" y="52" width="1" height="17" fill="#ff0000"/>
<rect x="1247" y="60" width="3" height="8" fill="#ff0000"/>
<rect x="1252" y="49" width="1" height="14" fill="#00ff00"/>
<rect x="1251" y="60" width="3" height="2" fill="#00ff00"/>
<rect x="1256" y="59" width="1" height="28" fill="#00ff00"/>
<rect x="1255" y="60" width="3" height="15" fill="#00ff00"/>
<rect x="1260" y="65" width="1" height="21" fill="#00ff00"/>
<rect x="1259" y="74" width="3" height="8" fill="#00ff00"/>
<rect x="1264" y="79" width="1" height="6" fill="#ff0000"/>
<rect x="1263" y="79" width="3" height="2" fill="#ff0000"/>
<rect x="1268" y="77" width="1" height="6" fill="#00ff00"/>
<rect x="1267" y="77" width="3" height="4" fill="#00ff00"/>
</g>
<path d="M4 160h1v1h-1zM5 161h2v1h-2zM7 162h1v1h-1zM8 163h2v1h-2zM10 164h1v1h-1zM11 165h2v1h-2zM13 166h1v1h-1zM14 167h2v1h-2zM16 168h2v1h-2zM18 169h2v1h-2zM20 170h1v1h-1zM21 171h2v1h-2zM23 172h2v1h-2zM25 173h2v1h-2zM27 174h2v1h-2zM29 175h2v1h-2zM31 176h2v1h-2zM33 177h2v1h-2zM35 178h3v1h-3zM38 179h3v1h-3zM41 180h2v1h-2zM43 181h3v1h-3zM46 182h20v1h-20zM66 181h5v1h-5zM71 180h4v1h-4zM75 179h5v1h-5zM80 178h4v1h-4zM84 177h4v1h-4zM88 176h6v1h-6zM94 175h50v1h-50zM144 176h16v1h-16zM160 175h10v1h-10zM170 176h3v1h-3zM173 177h11v1h-11zM184 178h4v1h-4zM188 179h5v1h-5zM193 180h6v1h-6zM199 181h33v1h-33zM232 180h4v1h-4zM236 179h4v1h-4zM240 178h5v1h-5zM245 177h3v1h-3zM248 176h3v1h-3zM251 175h2v1h-2zM253 174h6v1h-6zM259 173h2v1h-2zM261 172h3v1h-3zM264 171h2v1h-2zM266 170h2v1h-2zM268 169h2v1h-2zM270 168h3v1h-3zM273 167h4v1h-4zM277 166h3v1h-3zM280 165h4v1h-4zM284 164h5v1h-5zM289 163h19v1h-19zM308 162h18v1h-18zM326 163h5v1h-5zM331 164h6v1h-6zM337 165h6v1h-6zM343 166h6v1h-6zM349 167h20v1h-20zM369 168h5v1h-5zM374 169h5v1h-5zM379 170h5v1h-5zM384 171h23v1h-23zM407 170h8v1h-8zM415 169h4v1h-4zM419 168h4v1h-4zM423 167h4v1h-4zM427 166h4v1h-4zM431 165h3v1h-3zM434 164h3v1h-3zM437 163h3v1h-3zM440 162h3v1h-3zM443 161h3v1h-3zM446 160h3v1h-3zM449 159h2v1h-2zM451 158h2v1h-2zM453 157h2v1h-2zM455 156h3v1h-3zM458 155h2v1h-2zM460 154h1v1h-1zM461 153h2v1h-2zM463 152h2v1h-2zM465 151h2v1h-2zM467 150h2v1h-2zM469 149h1v1h-1zM470 148h15v1h-15zM485 147h4v1h-4zM489 146h3v1h-3zM492 145h6v1h-6zM498 144h7v1h-7zM505 143h21v1h-21zM526 144h16v1h-16zM542 145h5v1h-5zM547 146h2v1h-2zM549 147h2v1h-2zM551 148h1v1h-1zM552 149h2v1h-2zM554 150h2v1h-2zM556 151h1v1h-1zM557 152h2v1h-2zM559 153h2v1h-2zM561 154h2v1h-2zM563 155h1v1h-1zM564 156h2v1h-2zM566 157h2v1h-2zM568 158h1v1h-1zM569 159h2v1h-2zM571 160h2v1h-2zM573 161h2v1h-2zM575 162h1v1h-1zM576 163h2v1h-2zM578 164h2v1h-2zM580 165h2v1h-2zM582 166h1v1h-1zM583 167h2v1h-2zM585 168h2v1h-2zM587 169h2v1h-2zM589 170h1v1h-1zM590 171h2v1h-2zM592 172h2v1h-2zM594 173h3v1h-3zM597 174h4v1h-4zM601 175h4v1h-4zM605 176h3v1h-3zM608 177h2v1h-2zM610 178h2v1h-2zM612 179h1v1h-1zM613 180h4v1h-4zM617 181h3v1h-3zM620 182h2v1h-2zM622 183h3v1h-3zM625 184h1v1h-1zM626 185h2v1h-2zM628 186h1v1h-1zM629 187h1v1h-1zM630 188h2v1h-2zM632 189h2v1h-2zM634 190h2v1h-2zM636 191h2v1h-2zM638 192h2v1h-2zM640 193h2v1h-2zM642 194h2v1h-2zM644 195h2v1h-2zM646 196h1v1h-1zM647 197h2v1h-2zM649 198h2v1h-2zM651 199h1v1h-1zM652 200h3v1h-3zM655 201h2v1h-2zM657 202h1v1h-1zM658 203h1v1h-1zM659 204h1v1h-1zM660 205h1v1h-1zM661 206h1v1h-1zM662 207h2v1h-2zM664 208h1v1h-1zM665 209h2v1h-2zM667 210h1v1h-1zM668 211h3v1h-3zM671 212h3v1h-3zM674 213h4v1h-4zM678 214h10v1h-10zM688 215h6v1h-6zM694 216h3v1h-3zM697 217h2v1h-2zM699 218h2v1h-2zM701 219h1v1h-1zM702 220h1v1h-1zM703 221h1v1h-1zM704 222h1v1h-1zM705 223h1v1h-1zM706 224h1v2h-1zM707 226h1v1h-1zM708 227h1v1h-1zM709 228h1v1h-1zM710 229h1v2h-1zM711 231h1v1h-1zM712 232h1v1h-1zM713 233h1v2h-1zM714 235h1v1h-1zM715 236h1v1h-1zM716 237h1v2h-1zM717 239h1v1h-1zM718 240h1v1h-1zM719 241h1v2h-1zM720 243h1v2h-1zM721 245h1v2h-1zM722 247h1v1h-1zM723 248h1v2h-1zM724 250h1v2h-1zM725 252h1v2h-1zM726 254h1v1h-1zM727 255h1v2h-1zM728 257h1v3h-1zM729 260h1v2h-1zM730 262h1v2h-1zM731 264h1v2h-1zM732 266h1v2h-1zM733 268h1v2h-1zM734 270h1v3h-1zM735 273h1v2h-1zM736 275h1v2h-1zM737 277h1v2h-1zM738 279h1v2h-1zM739 281h1v2h-1zM740 283h1v2h-1zM741 285h1v1h-1zM742 286h1v2h-1zM743 288h1v1h-1zM744 289h1v2h-1zM745 291h1v1h-1zM746 292h1v2h-1zM747 294h1v1h-1zM748 295h1v2h-1zM749 297h1v1h-1zM750 298h1v2h-1zM751 300h1v1h-1zM752 301h1v2h-1zM753 303h1v1h-1zM754 304h1v1h-1zM755 305h1v1h-1zM756 306h1v1h-1zM757 307h1v1h-1zM758 308h1v1h-1zM759 309h1v1h-1zM760 310h1v1h-1zM761 311h1v1h-1zM762 312h1v1h-1zM763 313h1v1h-1zM764 314h1v1h-1zM765 315h1v1h-1zM766 316h1v1h-1zM767 317h1v1h-1zM768 318h1v2h-1zM769 320h1v1h-1zM770 321h1v1h-1zM771 322h1v1h-1zM772 323h1v1h-1zM773 324h1v1h-1zM774 325h1v1h-1zM775 326h1v2h-1zM776 328h1v1h-1zM777 329h1v1h-1zM778 330h1v1h-1zM779 331h1v1h-1zM780 332h1v1h-1zM781 333h1v1h-1zM782 334h1v1h-1zM783 335h1v1h-1zM784 336h1v1h-1zM785 337h1v1h-1zM786 338h1v1h-1zM787 339h1v1h-1zM788 340h1v1h-1zM789 341h1v1h-1zM790 342h1v1h-1zM791 343h1v1h-1zM792 344h1v1h-1zM793 345h1v1h-1zM794 346h2v1h-2zM796 347h1v1h-1zM797 348h1v1h-1zM798 349h2v1h-2zM800 350h1v1h-1zM801 351h2v1h-2zM803 352h1v1h-1zM804 353h2v1h-2zM806 354h1v1h-1zM807 355h2v1h-2zM809 356h2v1h-2zM811 357h1v1h-1zM812 358h6v1h-6zM818 359h2v1h-2zM820 360h5v1h-5zM825 359h2v1h-2zM827 358h2v1h-2zM829 357h2v1h-2zM831 356h1v1h-1zM832 355h2v1h-2zM834 354h2v1h-2zM836 353h2v1h-2zM838 352h1v1h-1zM839 351h1v1h-1zM840 350h2v1h-2zM842 349h1v1h-1zM843 348h1v1h-1zM844 347h1v1h-1zM845 346h1v1h-1zM846 345h1v1h-1zM847 343h1v2h-1zM848 342h1v1h-1zM849 341h1v1h-1zM850 340h1v1h-1zM851 338h1v2h-1zM852 337h1v1h-1zM853 336h1v1h-1zM854 335h1v1h-1zM855 333h1v2h-1zM856 332h1v1h-1zM857 331h1v1h-1zM858 329h1v2h-1zM859 328h1v1h-1zM860 327h1v1h-1zM861 325h1v2h-1zM862 324h1v1h-1zM863 323h1v1h-1zM864 322h1v1h-1zM865 320h1v2h-1zM866 319h1v1h-1zM867 318h1v1h-1zM868 317h1v1h-1zM869 316h1v1h-1zM870 315h1v1h-1zM871 314h1v1h-1zM872 313h1v1h-1zM873 312h1v1h-1zM874 311h1v1h-1zM875 310h1v1h-1zM876 309h1v1h-1zM877 308h2v1h-2zM879 307h2v1h-2zM881 306h2v1h-2zM883 305h2v1h-2zM885 304h2v1h-2zM887 303h1v1h-1zM888 302h1v1h-1zM889 301h1v1h-1zM890 300h1v1h-1zM891 299h2v1h-2zM893 298h1v1h-1zM894 297h1v1h-1zM895 296h1v1h-1zM896 295h1v1h-1zM897 294h1v1h-1zM898 292h1v2h-1zM899 290h1v2h-1zM900 289h1v1h-1zM901 288h1v1h-1zM902 287h1v1h-1zM903 286h1v1h-1zM904 285h1v1h-1zM905 284h1v1h-1zM906 283h1v1h-1zM907 282h1v1h-1zM908 281h2v1h-2zM910 280h1v1h-1zM911 279h2v1h-2zM913 278h2v1h-2zM915 277h2v1h-2zM917 276h5v1h-5zM922 275h9v1h-9zM931 274h3v1h-3zM934 273h3v1h-3zM937 272h1v1h-1zM938 271h2v1h-2zM940 270h1v1h-1zM941 269h1v1h-1zM942 268h3v1h-3zM945 267h2v1h-2zM947 266h3v1h-3zM950 265h3v1h-3zM953 264h3v1h-3zM956 263h1v1h-1zM957 262h2v1h-2zM959 261h1v1h-1zM960 260h1v1h-1zM961 259h2v1h-2zM963 258h1v1h-1zM964 257h2v1h-2zM966 256h1v1h-1zM967 255h2v1h-2zM969 254h1v1h-1zM970 253h2v1h-2zM972 252h2v1h-2zM974 251h1v1h-1zM975 250h2v1h-2zM977 249h2v1h-2zM979 248h1v1h-1zM980 247h1v1h-1zM981 246h1v1h-1zM982 245h1v1h-1zM983 244h1v1h-1zM984 243h1v1h-1zM985 242h1v1h-1zM986 241h1v1h-1zM987 240h1v1h-1zM988 239h1v1h-1zM989 238h1v1h-1zM990 237h2v1h-2zM992 236h1v1h-1zM993 235h1v1h-1zM994 233h1v2h-1zM995 232h1v1h-1zM996 231h1v1h-1zM997 230h1v1h-1zM998 229h1v1h-1zM999 227h1v2h-1zM1000 226h1v1h-1zM1001 225h1v1h-1zM1002 224h1v1h-1zM1003 223h1v1h-1zM1004 222h1v1h-1zM1005 221h1v1h-1zM1006 220h1v1h-1zM1007 218h1v2h-1zM1008 217h1v1h-1zM1009 216h1v1h-1zM1010 215h1v1h-1zM1011 214h1v1h-1zM1012 213h1v1h-1zM1013 212h1v1h-1zM1014 211h1v1h-1zM1015 210h1v1h-1zM1016 209h1v1h-1zM1017 208h1v1h-1zM1018 207h2v1h-2zM1020 206h1v1h-1zM1021 205h2v1h-2zM1023 204h1v1h-1zM1024 203h2v1h-2zM1026 202h1v1h-1zM1027 201h1v1h-1zM1028 200h1v1h-1zM1029 199h1v1h-1zM1030 198h1v1h-1zM1031 197h2v1h-2zM1033 196h1v1h-1zM1034 195h1v1h-1zM1035 194h1v1h-1zM1036 193h1v1h-1zM1037 192h1v1h-1zM1038 191h1v1h-1zM1039 190h1v1h-1zM1040 189h1v1h-1zM1041 188h1v1h-1zM1042 187h1v1h-1zM1043 186h1v1h-1zM1044 185h1v1h-1zM1045 184h1v1h-1zM1046 183h1v1h-1zM1047 182h1v1h-1zM1048 181h1v1h-1zM1049 180h1v1h-1zM1050 179h2v1h-2zM1052 178h1v1h-1zM1053 177h1v1h-1zM1054 176h1v1h-1zM1055 175h1v1h-1zM1056 174h2v1h-2zM1058 173h1v1h-1zM1059 172h1v1h-1zM1060 171h2v1h-2zM1062 170h2v1h-2zM1064 169h2v1h-2zM1066 168h1v1h-1zM1067 167h2v1h-2zM1069 166h1v1h-1zM1070 165h1v1h-1zM1071 164h1v1h-1zM1072 163h1v1h-1zM1073 162h2v1h-2zM1075 161h1v1h-1zM1076 160h2v1h-2zM1078 159h1v1h-1zM1079 158h2v1h-2zM1081 157h2v1h-2zM1083 156h2v1h-2zM1085 155h1v1h-1zM1086 154h2v1h-2zM1088 153h1v1h-1zM1089 152h2v1h-2zM1091 151h2v1h-2zM1093 150h2v1h-2zM1095 149h2v1h-2zM1097 148h2v1h-2zM1099 147h3v1h-3zM1102 146h33v1h-33zM1135 145h2v1h-2zM1137 144h2v1h-2zM1139 143h3v1h-3zM1142 142h3v1h-3zM1145 141h2v1h-2zM1147 140h3v1h-3zM1150 139h3v1h-3zM1153 138h1v1h-1zM1154 137h2v1h-2zM1156 136h1v1h-1zM1157 135h2v1h-2zM1159 134h1v1h-1zM1160 133h2v1h-2zM1162 132h2v1h-2zM1164 131h2v1h-2zM1166 130h2v1h-2zM1168 129h2v1h-2zM1170 128h2v1h-2zM1172 127h2v1h-2zM1174 126h2v1h-2zM1176 125h2v1h-2zM1178 124h2v1h-2zM1180 123h2v1h-2zM1182 122h2v1h-2zM1184 121h1v1h-1zM1185 120h2v1h-2zM1187 119h1v1h-1zM1188 118h2v1h-2zM1190 117h1v1h-1zM1191 116h2v1h-2zM1193 115h2v1h-2zM1195 114h2v1h-2zM1197 113h2v1h-2zM1199 112h1v1h-1zM1200 111h2v1h-2zM1202 110h1v1h-1zM1203 109h2v1h-2zM1205 108h1v1h-1zM1206 107h1v1h-1zM1207 106h2v1h-2zM1209 105h1v1h-1zM1210 104h2v1h-2zM1212 103h2v1h-2zM1214 102h3v1h-3zM1217 101h2v1h-2zM1219 100h2v1h-2zM1221 99h3v1h-3zM1224 98h3v1h-3zM1227 97h2v1h-2zM1229 96h3v1h-3zM1232 95h3v1h-3zM1235 94h2v1h-2zM1237 93h2v1h-2zM1239 92h2v1h-2zM1241 91h2v1h-2zM1243 90h1v1h-1zM1244 89h2v1h-2zM1246 88h1v1h-1zM1247 87h2v1h-2zM1249 86h2v1h-2zM1251 85h3v1h-3zM1254 84h3v1h-3zM1257 83h2v1h-2zM1259 82h3v1h-3zM1262 81h3v1h-3zM1265 80h4v1h-4z" fill="#0000cd" shape-rendering="crispEdges"/>
<path d="M4 181h8v1h-8zM12 182h9v1h-9zM21 183h7v1h-7zM28 184h6v1h-6zM34 185h4v1h-4zM38 186h4v1h-4zM42 187h13v1h-13zM55 186h2v1h-2zM57 185h3v1h-3zM60 184h2v1h-2zM62 183h2v1h-2zM64 182h2v1h-2zM66 181h2v1h-2zM68 180h2v1h-2zM70 179h2v1h-2zM72 178h2v1h-2zM74 177h2v1h-2zM76 176h2v1h-2zM78 175h2v1h-2zM80 174h2v1h-2zM82 173h1v1h-1zM83 172h2v1h-2zM85 171h2v1h-2zM87 170h1v1h-1zM88 169h2v1h-2zM90 168h1v1h-1zM91 167h2v1h-2zM93 166h1v1h-1zM94 165h2v1h-2zM96 164h2v1h-2zM98 163h2v1h-2zM100 162h2v1h-2zM102 161h6v1h-6zM108 162h3v1h-3zM111 163h3v1h-3zM114 164h2v1h-2zM116 165h3v1h-3zM119 166h2v1h-2zM121 167h3v1h-3zM124 168h2v1h-2zM126 169h2v1h-2zM128 170h2v1h-2zM130 171h2v1h-2zM132 172h2v1h-2zM134 173h2v1h-2zM136 174h1v1h-1zM137 175h2v1h-2zM139 176h1v1h-1zM140 177h1v1h-1zM141 178h2v1h-2zM143 179h1v1h-1zM144 180h2v1h-2zM146 181h2v1h-2zM148 182h1v1h-1zM149 183h2v1h-2zM151 184h2v1h-2zM153 185h2v1h-2zM155 186h3v1h-3zM158 187h5v1h-5zM163 188h12v1h-12zM175 189h1v1h-1zM176 188h21v1h-21zM197 187h1v1h-1zM198 186h2v1h-2zM200 185h2v1h-2zM202 184h1v1h-1zM203 183h2v1h-2zM205 182h2v1h-2zM207 181h2v1h-2zM209 180h2v1h-2zM211 179h2v1h-2zM213 178h2v1h-2zM215 177h2v1h-2zM217 176h2v1h-2zM219 175h3v1h-3zM222 174h2v1h-2zM224 173h2v1h-2zM226 172h2v1h-2zM228 171h1v1h-1zM229 170h7v1h-7zM236 169h4v1h-4zM240 168h3v1h-3zM243 167h2v1h-2zM245 166h1v1h-1zM246 165h2v1h-2zM248 164h1v1h-1zM249 163h1v1h-1zM250 162h2v1h-2zM252 161h2v1h-2zM254 160h2v1h-2zM256 159h2v1h-2zM258 158h6v1h-6zM264 157h6v1h-6zM270 156h8v1h-8zM278 155h17v1h-17zM295 156h3v1h-3zM298 157h2v1h-2zM300 158h3v1h-3zM303 159h2v1h-2zM305 160h2v1h-2zM307 161h3v1h-3zM310 162h2v1h-2zM312 163h2v1h-2zM314 164h2v1h-2zM316 165h3v1h-3zM319 166h2v1h-2zM321 167h3v1h-3zM324 168h2v1h-2zM326 169h2v1h-2zM328 170h3v1h-3zM331 171h2v1h-2zM333 172h3v1h-3zM336 173h2v1h-2zM338 174h2v1h-2zM340 175h4v1h-4zM344 176h3v1h-3zM347 177h3v1h-3zM350 178h11v1h-11zM361 177h11v1h-11zM372 176h3v1h-3zM375 175h4v1h-4zM379 174h4v1h-4zM383 173h5v1h-5zM388 172h2v1h-2zM390 171h2v1h-2zM392 170h2v1h-2zM394 169h2v1h-2zM396 168h2v1h-2zM398 167h2v1h-2zM400 166h1v1h-1zM401 165h2v1h-2zM403 164h2v1h-2zM405 163h2v1h-2zM407 162h3v1h-3zM410 161h3v1h-3zM413 160h6v1h-6zM419 159h3v1h-3zM422 158h2v1h-2zM424 157h2v1h-2zM426 156h3v1h-3zM429 155h2v1h-2zM431 154h2v1h-2zM433 153h3v1h-3zM436 152h2v1h-2zM438 151h2v1h-2zM440 150h2v1h-2zM442 149h2v1h-2zM444 148h1v1h-1zM445 147h2v1h-2zM447 146h1v1h-1zM448 145h2v1h-2zM450 144h1v1h-1zM451 143h2v1h-2zM453 142h1v1h-1zM454 141h2v1h-2zM456 140h2v1h-2zM458 139h1v1h-1zM459 138h2v1h-2zM461 137h2v1h-2zM463 136h2v1h-2zM465 135h2v1h-2zM467 134h5v1h-5zM472 133h11v1h-11zM483 134h3v1h-3zM486 135h2v1h-2zM488 136h5v1h-5zM493 137h5v1h-5zM498 138h5v1h-5zM503 139h3v1h-3zM506 140h2v1h-2zM508 141h2v1h-2zM510 142h1v1h-1zM511 143h2v1h-2zM513 144h1v1h-1zM514 145h1v1h-1zM515 146h1v1h-1zM516 147h1v1h-1zM517 148h3v1h-3zM520 149h2v1h-2zM522 150h3v1h-3zM525 151h2v1h-2zM527 152h3v1h-3zM530 153h2v1h-2zM532 154h11v1h-11zM543 155h3v1h-3zM546 156h1v1h-1zM547 157h2v1h-2zM549 158h1v1h-1zM550 159h2v1h-2zM552 160h1v1h-1zM553 161h1v1h-1zM554 162h1v1h-1zM555 163h1v1h-1zM556 164h2v1h-2zM558 165h1v1h-1zM559 166h1v1h-1zM560 167h1v1h-1zM561 168h1v1h-1zM562 169h1v1h-1zM563 170h1v1h-1zM564 171h1v1h-1zM565 172h1v1h-1zM566 173h1v1h-1zM567 174h1v1h-1zM568 175h1v1h-1zM569 176h1v1h-1zM570 177h1v1h-1zM571 178h2v1h-2zM573 179h1v1h-1zM574 180h1v1h-1zM575 181h2v1h-2zM577 182h1v1h-1zM578 183h3v1h-3zM581 184h1v1h-1zM582 185h1v1h-1zM583 186h1v1h-1zM584 187h1v1h-1zM585 188h1v1h-1zM586 189h1v1h-1zM587 190h2v1h-2zM589 191h1v1h-1zM590 192h2v1h-2zM592 193h1v1h-1zM593 194h2v1h-2zM595 195h1v1h-1zM596 196h2v1h-2zM598 197h2v1h-2zM600 198h11v1h-11zM611 199h4v1h-4zM615 198h13v1h-13zM628 199h3v1h-3zM631 200h2v1h-2zM633 201h2v1h-2zM635 202h1v1h-1zM636 203h2v1h-2zM638 204h2v1h-2zM640 205h3v1h-3zM643 206h5v1h-5zM648 207h3v1h-3zM651 208h2v1h-2zM653 209h1v1h-1zM654 210h2v1h-2zM656 211h1v2h-1zM657 213h1v1h-1zM658 214h1v1h-1zM659 215h1v2h-1zM660 217h1v1h-1zM661 218h1v1h-1zM662 219h1v1h-1zM663 220h1v1h-1zM664 221h1v1h-1zM665 222h1v1h-1zM666 223h2v1h-2zM668 224h1v1h-1zM669 225h2v1h-2zM671 226h1v1h-1zM672 227h2v1h-2zM674 228h2v1h-2zM676 229h2v1h-2zM678 230h4v1h-4zM682 231h14v1h-14zM696 232h1v1h-1zM697 233h1v1h-1zM698 234h2v1h-2zM700 235h1v1h-1zM701 236h1v2h-1zM702 238h1v1h-1zM703 239h1v2h-1zM704 241h1v1h-1zM705 242h1v2h-1zM706 244h1v2h-1zM707 246h1v2h-1zM708 248h1v2h-1zM709 250h1v2h-1zM710 252h1v2h-1zM711 254h1v1h-1zM712 255h1v2h-1zM713 257h1v2h-1zM714 259h1v2h-1zM715 261h1v2h-1zM716 263h1v2h-1zM717 265h1v3h-1zM718 268h1v3h-1zM719 271h1v3h-1zM720 274h1v4h-1zM721 278h1v3h-1zM722 281h1v3h-1zM723 284h1v3h-1zM724 287h1v3h-1zM725 290h1v4h-1zM726 294h1v3h-1zM727 297h1v4h-1zM728 301h1v3h-1zM729 304h1v4h-1zM730 308h1v4h-1zM731 312h1v4h-1zM732 316h1v4h-1zM733 320h1v4h-1zM734 324h1v3h-1zM735 327h1v4h-1zM736 331h1v4h-1zM737 335h1v4h-1zM738 339h1v4h-1zM739 343h1v4h-1zM740 347h1v4h-1zM741 351h1v4h-1zM742 355h1v4h-1zM743 359h1v4h-1zM744 363h1v3h-1zM745 366h1v4h-1zM746 370h1v3h-1zM747 373h1v2h-1zM748 375h1v2h-1zM749 377h1v2h-1zM750 379h1v2h-1zM751 381h1v2h-1zM752 383h1v2h-1zM753 385h1v2h-1zM754 387h1v2h-1zM755 389h1v1h-1zM756 390h2v1h-2zM758 391h3v1h-3zM761 392h10v1h-10zM771 393h3v1h-3zM774 392h1v1h-1zM775 391h2v1h-2zM777 390h1v1h-1zM778 389h1v1h-1zM779 388h2v1h-2zM781 387h1v1h-1zM782 386h1v1h-1zM783 385h2v1h-2zM785 384h1v1h-1zM786 383h1v1h-1zM787 381h1v2h-1zM788 380h1v1h-1zM789 378h1v2h-1zM790 376h1v2h-1zM791 373h1v3h-1zM792 371h1v2h-1zM793 369h1v2h-1zM794 367h1v2h-1zM795 366h1v1h-1zM796 364h1v2h-1zM797 362h1v2h-1zM798 360h1v2h-1zM799 358h1v2h-1zM800 356h1v2h-1zM801 355h1v1h-1zM802 353h1v2h-1zM803 351h1v2h-1zM804 350h1v1h-1zM805 348h1v2h-1zM806 346h1v2h-1zM807 345h1v1h-1zM808 344h1v1h-1zM809 342h1v2h-1zM810 341h1v1h-1zM811 340h1v1h-1zM812 339h1v1h-1zM813 338h1v1h-1zM814 337h1v1h-1zM815 336h1v1h-1zM816 335h1v1h-1zM817 334h1v1h-1zM818 333h1v1h-1zM819 332h2v1h-2zM821 331h2v1h-2zM823 330h1v1h-1zM824 329h1v1h-1zM825 327h1v2h-1zM826 326h1v1h-1zM827 325h1v1h-1zM828 324h1v1h-1zM829 322h1v2h-1zM830 321h1v1h-1zM831 319h1v2h-1zM832 318h1v1h-1zM833 316h1v2h-1zM834 314h1v2h-1zM835 313h1v1h-1zM836 311h1v2h-1zM837 310h1v1h-1zM838 308h1v2h-1zM839 307h1v1h-1zM840 306h1v1h-1zM841 304h1v2h-1zM842 303h1v1h-1zM843 302h1v1h-1zM844 301h1v1h-1zM845 300h1v1h-1zM846 299h1v1h-1zM847 298h1v1h-1zM848 297h2v1h-2zM850 296h1v1h-1zM851 295h2v1h-2zM853 294h2v1h-2zM855 293h1v1h-1zM856 292h2v1h-2zM858 291h2v1h-2zM860 290h2v1h-2zM862 289h2v1h-2zM864 288h1v1h-1zM865 287h2v1h-2zM867 286h1v1h-1zM868 285h1v1h-1zM869 284h1v1h-1zM870 283h2v1h-2zM872 282h2v1h-2zM874 281h2v1h-2zM876 280h2v1h-2zM878 279h3v1h-3zM881 278h3v1h-3zM884 277h4v1h-4zM888 276h3v1h-3zM891 275h1v1h-1zM892 274h1v1h-1zM893 273h1v1h-1zM894 272h1v1h-1zM895 271h1v1h-1zM896 270h1v1h-1zM897 269h1v1h-1zM898 268h1v1h-1zM899 267h2v1h-2zM901 266h2v1h-2zM903 265h3v1h-3zM906 264h2v1h-2zM908 263h1v1h-1zM909 262h1v1h-1zM910 261h2v1h-2zM912 260h7v1h-7zM919 261h2v1h-2zM921 262h1v1h-1zM922 263h2v1h-2zM924 264h1v1h-1zM925 265h4v1h-4zM929 266h1v1h-1zM930 265h2v1h-2zM932 264h1v1h-1zM933 263h1v1h-1zM934 262h2v1h-2zM936 261h1v1h-1zM937 260h1v1h-1zM938 259h1v1h-1zM939 258h1v1h-1zM940 257h2v1h-2zM942 256h2v1h-2zM944 255h3v1h-3zM947 254h2v1h-2zM949 253h8v1h-8zM957 252h2v1h-2zM959 251h2v1h-2zM961 250h3v1h-3zM964 249h1v1h-1zM965 248h1v1h-1zM966 247h2v1h-2zM968 246h1v1h-1zM969 245h2v1h-2zM971 244h1v1h-1zM972 243h1v1h-1zM973 242h1v1h-1zM974 241h1v1h-1zM975 239h1v2h-1zM976 238h1v1h-1zM977 237h1v1h-1zM978 234h1v3h-1zM979 232h1v2h-1zM980 230h1v2h-1zM981 228h1v2h-1zM982 226h1v2h-1zM983 223h1v3h-1zM984 221h1v2h-1zM985 219h1v2h-1zM986 217h1v2h-1zM987 215h1v2h-1zM988 213h1v2h-1zM989 212h1v1h-1zM990 210h1v2h-1zM991 209h1v1h-1zM992 207h1v2h-1zM993 205h1v2h-1zM994 203h1v2h-1zM995 201h1v2h-1zM996 199h1v2h-1zM997 197h1v2h-1zM998 195h1v2h-1zM999 193h1v2h-1zM1000 190h1v3h-1zM1001 188h1v2h-1zM1002 185h1v3h-1zM1003 183h1v2h-1zM1004 181h1v2h-1zM1005 179h1v2h-1zM1006 176h1v3h-1zM1007 174h1v2h-1zM1008 172h1v2h-1zM1009 170h1v2h-1zM1010 168h1v2h-1zM1011 167h1v1h-1zM1012 166h1v1h-1zM1013 164h1v2h-1zM1014 163h1v1h-1zM1015 162h1v1h-1zM1016 161h1v1h-1zM1017 160h1v1h-1zM1018 159h1v1h-1zM1019 158h1v1h-1zM1020 156h1v2h-1zM1021 155h1v1h-1zM1022 154h2v1h-2zM1024 153h1v1h-1zM1025 152h1v1h-1zM1026 151h1v1h-1zM1027 150h1v1h-1zM1028 149h1v1h-1zM1029 148h1v1h-1zM1030 146h1v2h-1zM1031 145h2v1h-2zM1033 144h2v1h-2zM1035 143h5v1h-5zM1040 144h4v1h-4zM1044 145h3v1h-3zM1047 146h3v1h-3zM1050 147h2v1h-2zM1052 148h3v1h-3zM1055 149h3v1h-3zM1058 150h3v1h-3zM1061 151h2v1h-2zM1063 152h1v1h-1zM1064 153h2v1h-2zM1066 154h1v1h-1zM1067 155h1v1h-1zM1068 156h13v1h-13zM1081 155h3v1h-3zM1084 154h3v1h-3zM1087 153h4v1h-4zM1091 152h3v1h-3zM1094 151h3v1h-3zM1097 150h2v1h-2zM1099 149h3v1h-3zM1102 148h1v1h-1zM1103 147h1v1h-1zM1104 146h2v1h-2zM1106 145h7v1h-7zM1113 144h2v1h-2zM1115 143h3v1h-3zM1118 142h2v1h-2zM1120 141h2v1h-2zM1122 140h2v1h-2zM1124 139h2v1h-2zM1126 138h2v1h-2zM1128 137h1v1h-1zM1129 136h2v1h-2zM1131 135h1v1h-1zM1132 134h2v1h-2zM1134 133h2v1h-2zM1136 132h3v1h-3zM1139 131h3v1h-3zM1142 130h2v1h-2zM1144 129h3v1h-3zM1147 128h2v1h-2zM1149 127h1v1h-1zM1150 126h1v1h-1zM1151 125h2v1h-2zM1153 124h1v1h-1zM1154 123h1v1h-1zM1155 122h2v1h-2zM1157 121h1v1h-1zM1158 120h1v1h-1zM1159 119h2v1h-2zM1161 118h1v1h-1zM1162 117h2v1h-2zM1164 116h1v1h-1zM1165 115h2v1h-2zM1167 114h1v1h-1zM1168 113h1v1h-1zM1169 112h1v1h-1zM1170 111h2v1h-2zM1172 110h1v1h-1zM1173 109h1v1h-1zM1174 108h1v1h-1zM1175 107h1v1h-1zM1176 106h1v1h-1zM1177 105h1v1h-1zM1178 104h1v1h-1zM1179 103h2v1h-2zM1181 102h1v1h-1zM1182 101h1v1h-1zM1183 100h2v1h-2zM1185 99h1v1h-1zM1186 98h2v1h-2zM1188 97h1v1h-1zM1189 96h1v1h-1zM1190 95h1v1h-1zM1191 94h2v1h-2zM1193 93h1v1h-1zM1194 92h3v1h-3zM1197 91h1v1h-1zM1198 90h1v1h-1zM1199 89h1v1h-1zM1200 88h1v1h-1zM1201 87h1v1h-1zM1202 86h2v1h-2zM1204 85h1v1h-1zM1205 84h1v1h-1zM1206 83h7v1h-7zM1213 82h3v1h-3zM1216 81h2v1h-2zM1218 80h8v1h-8zM1226 79h14v1h-14zM1240 78h3v1h-3zM1243 77h2v1h-2zM1245 76h3v1h-3zM1248 75h2v1h-2zM1250 74h2v1h-2zM1252 73h8v1h-8zM1260 74h6v1h-6zM1266 75h3v1h-3z" fill="#ff0000" shape-rendering="crispEdges"/>
<path d="M4 180h2v1h-2zM6 181h3v1h-3zM9 182h3v1h-3zM12 183h3v1h-3zM15 184h10v1h-10zM25 185h3v1h-3zM28 186h3v1h-3zM31 187h3v1h-3zM34 188h2v1h-2zM36 189h2v1h-2zM38 190h2v1h-2zM40 191h1v1h-1zM41 192h2v1h-2zM43 193h6v1h-6zM49 192h1v1h-1zM50 191h2v1h-2zM52 190h1v1h-1zM53 188h1v2h-1zM54 186h1v2h-1zM55 184h1v2h-1zM56 182h1v2h-1zM57 181h1v1h-1zM58 179h1v2h-1zM59 177h1v2h-1zM60 176h1v1h-1zM61 174h1v2h-1zM62 172h1v2h-1zM63 171h1v1h-1zM64 169h1v2h-1zM65 168h1v1h-1zM66 166h1v2h-1zM67 165h1v1h-1zM68 164h1v1h-1zM69 163h1v1h-1zM70 162h1v1h-1zM71 161h1v1h-1zM72 160h2v1h-2zM74 159h3v1h-3zM77 158h3v1h-3zM80 157h2v1h-2zM82 156h17v1h-17zM99 157h2v1h-2zM101 158h1v1h-1zM102 159h1v1h-1zM103 160h1v2h-1zM104 162h1v1h-1zM105 163h1v2h-1zM106 165h1v1h-1zM107 166h1v2h-1zM108 168h1v1h-1zM109 169h1v2h-1zM110 171h1v1h-1zM111 172h1v1h-1zM112 173h1v1h-1zM113 174h1v1h-1zM114 175h1v1h-1zM115 176h1v1h-1zM116 177h1v1h-1zM117 178h1v1h-1zM118 179h1v1h-1zM119 180h1v1h-1zM120 181h2v1h-2zM122 182h3v1h-3zM125 183h3v1h-3zM128 184h7v1h-7zM135 185h2v1h-2zM137 186h2v1h-2zM139 187h2v1h-2zM141 188h1v1h-1zM142 189h2v1h-2zM144 190h1v1h-1zM145 191h1v1h-1zM146 192h2v1h-2zM148 193h11v1h-11zM159 192h2v1h-2zM161 191h3v1h-3zM164 190h3v1h-3zM167 189h9v1h-9zM176 188h2v1h-2zM178 187h2v1h-2zM180 186h2v1h-2zM182 185h2v1h-2zM184 184h1v1h-1zM185 183h2v1h-2zM187 182h3v1h-3zM190 181h2v1h-2zM192 180h3v1h-3zM195 181h3v1h-3zM198 180h2v1h-2zM200 179h3v1h-3zM203 178h2v1h-2zM205 176h1v2h-1zM206 175h1v1h-1zM207 174h1v1h-1zM208 172h1v2h-1zM209 171h1v1h-1zM210 170h1v1h-1zM211 168h1v2h-1zM212 167h1v1h-1zM213 166h1v1h-1zM214 164h1v2h-1zM215 163h1v1h-1zM216 162h2v1h-2zM218 161h6v1h-6zM224 162h3v1h-3zM227 163h2v1h-2zM229 164h1v1h-1zM230 165h2v1h-2zM232 166h8v1h-8zM240 165h2v1h-2zM242 164h1v1h-1zM243 163h2v1h-2zM245 162h1v1h-1zM246 161h2v1h-2zM248 159h1v2h-1zM249 158h1v1h-1zM250 157h1v1h-1zM251 156h1v1h-1zM252 155h1v1h-1zM253 154h1v1h-1zM254 153h1v1h-1zM255 152h1v1h-1zM256 151h2v1h-2zM258 150h2v1h-2zM260 149h11v1h-11zM271 150h2v1h-2zM273 151h2v1h-2zM275 152h2v1h-2zM277 153h1v1h-1zM278 154h2v1h-2zM280 155h2v1h-2zM282 156h2v1h-2zM284 157h1v1h-1zM285 158h2v1h-2zM287 159h2v1h-2zM289 160h2v1h-2zM291 161h1v1h-1zM292 162h1v1h-1zM293 163h1v1h-1zM294 164h1v1h-1zM295 165h1v1h-1zM296 166h1v1h-1zM297 167h2v1h-2zM299 168h2v1h-2zM301 169h2v1h-2zM303 170h2v1h-2zM305 171h2v1h-2zM307 172h9v1h-9zM316 171h4v1h-4zM320 172h2v1h-2zM322 173h2v1h-2zM324 174h2v1h-2zM326 175h2v1h-2zM328 176h2v1h-2zM330 177h2v1h-2zM332 178h4v1h-4zM336 179h4v1h-4zM340 180h4v1h-4zM344 181h5v1h-5zM349 182h7v1h-7zM356 181h1v1h-1zM357 180h2v1h-2zM359 179h1v1h-1zM360 178h1v1h-1zM361 177h1v1h-1zM362 176h1v1h-1zM363 175h1v1h-1zM364 174h1v1h-1zM365 173h1v1h-1zM366 172h1v1h-1zM367 171h1v1h-1zM368 170h1v1h-1zM369 169h1v1h-1zM370 168h2v1h-2zM372 167h2v1h-2zM374 166h7v1h-7zM381 167h7v1h-7zM388 166h1v1h-1zM389 165h1v1h-1zM390 164h1v1h-1zM391 163h1v1h-1zM392 162h2v1h-2zM394 161h2v1h-2zM396 160h2v1h-2zM398 159h2v1h-2zM400 158h1v1h-1zM401 157h1v1h-1zM402 156h1v1h-1zM403 155h1v1h-1zM404 154h4v1h-4zM408 155h5v1h-5zM413 156h4v1h-4zM417 155h3v1h-3zM420 154h2v1h-2zM422 153h2v1h-2zM424 152h2v1h-2zM426 151h2v1h-2zM428 150h1v1h-1zM429 149h2v1h-2zM431 148h1v1h-1zM432 147h1v1h-1zM433 146h2v1h-2zM435 145h2v1h-2zM437 144h2v1h-2zM439 143h2v1h-2zM441 142h1v1h-1zM442 141h1v1h-1zM443 140h1v1h-1zM444 139h1v1h-1zM445 138h1v1h-1zM446 137h1v1h-1zM447 136h1v1h-1zM448 135h1v1h-1zM449 134h2v1h-2zM451 132h1v2h-1zM452 131h1v1h-1zM453 130h1v1h-1zM454 129h1v1h-1zM455 128h1v1h-1zM456 127h1v1h-1zM457 125h1v2h-1zM458 124h1v1h-1zM459 123h2v1h-2zM461 122h3v1h-3zM464 121h2v1h-2zM466 122h4v1h-4zM470 123h1v1h-1zM471 124h1v1h-1zM472 125h1v1h-1zM473 126h1v1h-1zM474 126h1v2h-1zM475 128h1v2h-1zM476 130h1v2h-1zM477 132h1v2h-1zM478 134h1v2h-1zM479 136h1v2h-1zM480 138h1v1h-1zM481 139h1v2h-1zM482 141h1v2h-1zM483 143h1v1h-1zM484 144h1v2h-1zM485 146h1v1h-1zM486 147h1v1h-1zM487 148h1v2h-1zM488 150h2v1h-2zM490 151h1v1h-1zM491 152h2v1h-2zM493 153h6v1h-6zM499 152h2v1h-2zM501 151h2v1h-2zM503 150h2v1h-2zM505 149h5v1h-5zM510 148h7v1h-7zM517 149h1v1h-1zM518 150h2v1h-2zM520 151h2v1h-2zM522 152h2v1h-2zM524 153h2v1h-2zM526 154h1v1h-1zM527 155h2v1h-2zM529 156h2v1h-2zM531 157h1v1h-1zM532 158h2v1h-2zM534 159h2v1h-2zM536 160h1v1h-1zM537 161h2v1h-2zM539 162h1v1h-1zM540 163h2v1h-2zM542 164h1v1h-1zM543 165h1v1h-1zM544 166h1v1h-1zM545 167h1v1h-1zM546 168h1v1h-1zM547 169h1v1h-1zM548 170h1v1h-1zM549 171h1v1h-1zM550 172h1v2h-1zM551 174h1v1h-1zM552 175h1v1h-1zM553 176h1v1h-1zM554 177h1v1h-1zM555 178h1v2h-1zM556 180h1v1h-1zM557 181h1v1h-1zM558 182h1v2h-1zM559 184h1v1h-1zM560 185h1v2h-1zM561 187h1v2h-1zM562 189h1v3h-1zM563 192h1v2h-1zM564 194h1v1h-1zM565 195h1v1h-1zM566 196h2v1h-2zM568 197h1v1h-1zM569 198h2v1h-2zM571 199h1v1h-1zM572 200h6v1h-6zM578 199h2v1h-2zM580 198h2v1h-2zM582 197h1v1h-1zM583 196h5v1h-5zM588 197h3v1h-3zM591 198h3v1h-3zM594 199h2v1h-2zM596 200h10v1h-10zM606 199h3v1h-3zM609 198h2v1h-2zM611 197h2v1h-2zM613 196h1v1h-1zM614 195h8v1h-8zM622 196h1v1h-1zM623 197h1v1h-1zM624 198h2v1h-2zM626 199h1v1h-1zM627 200h1v1h-1zM628 201h1v1h-1zM629 202h1v1h-1zM630 203h1v2h-1zM631 205h1v1h-1zM632 206h1v2h-1zM633 208h1v1h-1zM634 209h1v1h-1zM635 210h1v1h-1zM636 211h1v1h-1zM637 212h2v1h-2zM639 213h1v2h-1zM640 215h1v1h-1zM641 216h1v1h-1zM642 217h1v1h-1zM643 218h1v1h-1zM644 219h1v1h-1zM645 220h1v1h-1zM646 221h1v1h-1zM647 222h2v1h-2zM649 223h1v1h-1zM650 224h1v1h-1zM651 225h1v1h-1zM652 226h1v1h-1zM653 227h1v1h-1zM654 228h1v1h-1zM655 229h1v1h-1zM656 230h1v2h-1zM657 232h1v2h-1zM658 234h1v1h-1zM659 235h1v2h-1zM660 237h1v1h-1zM661 238h1v2h-1zM662 240h1v1h-1zM663 241h1v1h-1zM664 242h1v2h-1zM665 244h1v1h-1zM666 245h1v1h-1zM667 246h1v1h-1zM668 247h1v1h-1zM669 246h2v1h-2zM671 245h1v1h-1zM672 244h1v1h-1zM673 243h1v1h-1zM674 242h1v1h-1zM675 241h1v1h-1zM676 240h1v1h-1zM677 238h1v2h-1zM678 237h1v1h-1zM679 235h1v2h-1zM680 233h1v2h-1zM681 232h1v1h-1zM682 230h1v2h-1zM683 229h1v1h-1zM684 228h1v1h-1zM685 226h1v2h-1zM686 225h1v1h-1zM687 224h1v1h-1zM688 222h1v2h-1zM689 221h1v1h-1zM690 220h3v1h-3zM693 221h1v2h-1zM694 223h1v2h-1zM695 225h1v1h-1zM696 226h1v2h-1zM697 228h1v1h-1zM698 229h1v2h-1zM699 231h1v1h-1zM700 232h1v4h-1zM701 236h1v5h-1zM702 241h1v5h-1zM703 246h1v5h-1zM704 251h1v6h-1zM705 257h1v7h-1zM706 264h1v6h-1zM707 270h1v7h-1zM708 277h1v6h-1zM709 283h1v7h-1zM710 290h1v6h-1zM711 296h1v6h-1zM712 302h1v6h-1zM713 308h1v6h-1zM714 314h1v6h-1zM715 320h1v6h-1zM716 326h1v6h-1zM717 332h1v5h-1zM718 337h1v6h-1zM719 343h1v6h-1zM720 349h1v6h-1zM721 355h1v5h-1zM722 360h1v6h-1zM723 366h1v6h-1zM724 372h1v5h-1zM725 377h1v5h-1zM726 382h1v4h-1zM727 386h1v5h-1zM728 391h1v4h-1zM729 395h1v5h-1zM730 400h1v4h-1zM731 404h1v4h-1zM732 408h1v4h-1zM733 412h1v5h-1zM734 417h1v3h-1zM735 420h1v3h-1zM736 423h1v3h-1zM737 426h1v4h-1zM738 430h1v3h-1zM739 433h1v2h-1zM740 435h1v1h-1zM741 433h1v2h-1zM742 431h1v2h-1zM743 430h1v1h-1zM744 428h1v2h-1zM745 427h1v1h-1zM746 425h1v2h-1zM747 423h1v2h-1zM748 422h1v1h-1zM749 420h1v2h-1zM750 419h1v1h-1zM751 416h1v3h-1zM752 411h1v5h-1zM753 406h1v5h-1zM754 402h1v4h-1zM755 395h1v7h-1zM756 388h1v7h-1zM757 382h1v6h-1zM758 378h1v4h-1zM759 375h1v3h-1zM760 371h1v4h-1zM761 368h1v3h-1zM762 366h1v2h-1zM763 363h1v3h-1zM764 361h1v2h-1zM765 359h1v2h-1zM766 357h1v2h-1zM767 356h1v1h-1zM768 354h1v2h-1zM769 353h1v1h-1zM770 352h1v1h-1zM771 351h3v1h-3zM774 352h1v1h-1zM775 353h1v1h-1zM776 354h1v2h-1zM777 356h1v3h-1zM778 359h1v3h-1zM779 362h1v2h-1zM780 364h1v2h-1zM781 366h1v2h-1zM782 368h1v1h-1zM783 369h1v1h-1zM784 370h1v1h-1zM785 371h1v1h-1zM786 372h2v1h-2zM788 373h1v1h-1zM789 372h1v1h-1zM790 371h1v1h-1zM791 369h1v2h-1zM792 368h1v1h-1zM793 366h1v2h-1zM794 363h1v3h-1zM795 360h1v3h-1zM796 357h1v3h-1zM797 353h1v4h-1zM798 349h1v4h-1zM799 344h1v5h-1zM800 339h1v5h-1zM801 334h1v5h-1zM802 329h1v5h-1zM803 326h1v3h-1zM804 322h1v4h-1zM805 318h1v4h-1zM806 315h1v3h-1zM807 312h1v3h-1zM808 310h1v2h-1zM809 307h1v3h-1zM810 304h1v3h-1zM811 302h1v2h-1zM812 300h1v2h-1zM813 298h1v2h-1zM814 296h1v2h-1zM815 294h1v2h-1zM816 293h2v1h-2zM818 292h1v1h-1zM819 291h3v1h-3zM822 292h3v1h-3zM825 293h8v1h-8zM833 294h2v1h-2zM835 295h1v1h-1zM836 296h2v1h-2zM838 297h2v1h-2zM840 298h1v1h-1zM841 297h4v1h-4zM845 296h3v1h-3zM848 295h2v1h-2zM850 294h3v1h-3zM853 295h3v1h-3zM856 294h1v2h-1zM857 291h1v3h-1zM858 289h1v2h-1zM859 287h1v2h-1zM860 284h1v3h-1zM861 281h1v3h-1zM862 279h1v2h-1zM863 276h1v3h-1zM864 273h1v3h-1zM865 271h1v2h-1zM866 269h1v2h-1zM867 267h1v2h-1zM868 266h1v1h-1zM869 264h1v2h-1zM870 262h1v2h-1zM871 261h1v1h-1zM872 260h1v1h-1zM873 259h2v1h-2zM875 258h3v1h-3zM878 259h3v1h-3zM881 260h1v2h-1zM882 262h1v1h-1zM883 263h1v1h-1zM884 264h1v1h-1zM885 265h1v1h-1zM886 266h1v2h-1zM887 268h1v1h-1zM888 269h1v2h-1zM889 271h1v2h-1zM890 273h1v2h-1zM891 275h2v1h-2zM893 274h1v1h-1zM894 272h1v2h-1zM895 271h1v1h-1zM896 270h1v1h-1zM897 268h1v2h-1zM898 266h1v2h-1zM899 264h1v2h-1zM900 263h1v1h-1zM901 261h1v2h-1zM902 260h1v1h-1zM903 259h1v1h-1zM904 258h2v1h-2zM906 257h2v1h-2zM908 256h2v1h-2zM910 255h1v1h-1zM911 254h1v1h-1zM912 253h1v1h-1zM913 252h2v1h-2zM915 253h1v1h-1zM916 253h1v2h-1zM917 255h1v1h-1zM918 256h1v2h-1zM919 258h1v1h-1zM920 259h1v2h-1zM921 261h1v1h-1zM922 262h1v2h-1zM923 264h1v1h-1zM924 265h1v2h-1zM925 267h2v1h-2zM927 268h2v1h-2zM929 269h4v1h-4zM933 268h1v1h-1zM934 266h1v2h-1zM935 264h1v2h-1zM936 262h1v2h-1zM937 260h1v2h-1zM938 257h1v3h-1zM939 255h1v2h-1zM940 253h1v2h-1zM941 250h1v3h-1zM942 248h1v2h-1zM943 246h1v2h-1zM944 245h1v1h-1zM945 243h1v2h-1zM946 242h1v1h-1zM947 241h1v1h-1zM948 240h2v1h-2zM950 239h6v1h-6zM956 240h1v1h-1zM957 239h2v1h-2zM959 238h2v1h-2zM961 237h1v1h-1zM962 236h1v2h-1zM963 235h1v1h-1zM964 233h1v2h-1zM965 232h1v1h-1zM966 231h1v1h-1zM967 229h1v2h-1zM968 228h1v1h-1zM969 227h1v1h-1zM970 225h1v2h-1zM971 224h1v1h-1zM972 222h1v2h-1zM973 221h1v1h-1zM974 219h1v2h-1zM975 218h1v1h-1zM976 216h1v2h-1zM977 214h1v2h-1zM978 212h1v2h-1zM979 209h1v3h-1zM980 207h1v2h-1zM981 203h1v4h-1zM982 198h1v5h-1zM983 193h1v5h-1zM984 189h1v4h-1zM985 185h1v4h-1zM986 181h1v4h-1zM987 177h1v4h-1zM988 174h1v3h-1zM989 170h1v4h-1zM990 166h1v4h-1zM991 163h1v3h-1zM992 159h1v4h-1zM993 155h1v4h-1zM994 152h1v3h-1zM995 148h1v4h-1zM996 146h1v2h-1zM997 143h1v3h-1zM998 140h1v3h-1zM999 138h1v2h-1zM1000 136h1v2h-1zM1001 135h1v1h-1zM1002 134h1v1h-1zM1003 133h1v1h-1zM1004 132h1v1h-1zM1005 131h1v1h-1zM1006 130h2v1h-2zM1008 129h2v1h-2zM1010 128h3v1h-3zM1013 129h1v1h-1zM1014 130h1v1h-1zM1015 131h1v1h-1zM1016 132h1v2h-1zM1017 134h1v1h-1zM1018 135h1v2h-1zM1019 137h1v2h-1zM1020 139h1v1h-1zM1021 140h1v2h-1zM1022 142h1v2h-1zM1023 144h1v1h-1zM1024 145h1v2h-1zM1025 147h1v1h-1zM1026 148h1v2h-1zM1027 150h1v2h-1zM1028 152h1v2h-1zM1029 154h1v2h-1zM1030 156h1v1h-1zM1031 157h1v1h-1zM1032 158h17v1h-17zM1049 157h2v1h-2zM1051 156h2v1h-2zM1053 155h2v1h-2zM1055 154h1v1h-1zM1056 153h2v1h-2zM1058 152h3v1h-3zM1061 151h9v1h-9zM1070 152h2v1h-2zM1072 153h1v1h-1zM1073 154h1v2h-1zM1074 156h1v1h-1zM1075 157h6v1h-6zM1081 156h1v1h-1zM1082 155h2v1h-2zM1084 154h1v1h-1zM1085 153h2v1h-2zM1087 152h1v1h-1zM1088 151h1v1h-1zM1089 150h2v1h-2zM1091 149h1v1h-1zM1092 148h1v1h-1zM1093 147h1v1h-1zM1094 146h1v1h-1zM1095 145h1v1h-1zM1096 143h1v2h-1zM1097 142h1v1h-1zM1098 141h1v1h-1zM1099 139h1v2h-1zM1100 138h2v1h-2zM1102 137h1v1h-1zM1103 136h1v1h-1zM1104 135h2v1h-2zM1106 134h1v1h-1zM1107 133h2v1h-2zM1109 132h3v1h-3zM1112 131h7v1h-7zM1119 132h2v1h-2zM1121 133h2v1h-2zM1123 132h6v1h-6zM1129 131h1v1h-1zM1130 130h2v1h-2zM1132 129h2v1h-2zM1134 128h1v1h-1zM1135 127h2v1h-2zM1137 126h2v1h-2zM1139 125h2v1h-2zM1141 124h4v1h-4zM1145 123h1v1h-1zM1146 122h1v1h-1zM1147 121h1v1h-1zM1148 120h1v1h-1zM1149 119h1v1h-1zM1150 117h1v2h-1zM1151 115h1v2h-1zM1152 113h1v2h-1zM1153 111h1v2h-1zM1154 109h1v2h-1zM1155 107h1v2h-1zM1156 106h1v1h-1zM1157 104h1v2h-1zM1158 102h1v2h-1zM1159 101h1v1h-1zM1160 100h1v1h-1zM1161 99h1v1h-1zM1162 98h1v1h-1zM1163 96h1v2h-1zM1164 95h1v1h-1zM1165 94h2v1h-2zM1167 93h1v1h-1zM1168 92h1v1h-1zM1169 91h1v1h-1zM1170 90h3v1h-3zM1173 89h3v1h-3zM1176 88h4v1h-4zM1180 87h2v1h-2zM1182 86h1v1h-1zM1183 85h1v1h-1zM1184 84h1v1h-1zM1185 83h1v1h-1zM1186 82h3v1h-3zM1189 81h4v1h-4zM1193 82h2v1h-2zM1195 83h1v1h-1zM1196 84h6v1h-6zM1202 83h1v1h-1zM1203 82h1v1h-1zM1204 81h1v1h-1zM1205 80h1v1h-1zM1206 79h1v1h-1zM1207 78h1v1h-1zM1208 77h5v1h-5zM1213 76h1v1h-1zM1214 75h2v1h-2zM1216 74h5v1h-5zM1221 75h2v1h-2zM1223 76h1v1h-1zM1224 77h1v1h-1zM1225 78h2v1h-2zM1227 79h14v1h-14zM1241 78h2v1h-2zM1243 77h1v1h-1zM1244 76h1v2h-1zM1245 75h1v1h-1zM1246 74h1v1h-1zM1247 73h1v1h-1zM1248 72h1v1h-1zM1249 71h1v1h-1zM1250 70h1v1h-1zM1251 69h1v1h-1zM1252 68h6v1h-6zM1258 69h3v1h-3zM1261 70h2v1h-2zM1263 71h1v1h-1zM1264 72h2v1h-2zM1266 73h1v1h-1zM1267 74h2v1h-2z" fill="#ffa500" shape-rendering="crispEdges"/>
<g shape-rendering="crispEdges">
<rect x="4" y="41" width="1592" height="2" fill="#ff0000"/>
<rect x="4" y="67" width="1592" height="2" fill="#ff0000"/>
<rect x="4" y="94" width="1592" height="2" fill="#00ff00"/>
<rect x="4" y="121" width="1592" height="2" fill="#0000ff"/>
<rect x="4" y="147" width="1592" height="2" fill="#0000ff"/>
<rect x="3" y="39" width="6" height="6" fill="#ff0000"/>
<rect x="5" y="41" width="2" height="2" fill="#ffffff"/>
<rect x="1590" y="39" width="6" height="6" fill="#ff0000"/>
<rect x="1592" y="41" width="2" height="2" fill="#ffffff"/>
<rect x="3" y="65" width="6" height="6" fill="#ff0000"/>
<rect x="5" y="67" width="2" height="2" fill="#ffffff"/>
<rect x="1590" y="65" width="6" height="6" fill="#ff0000"/>
<rect x="1592" y="67" width="2" height="2" fill="#ffffff"/>
<rect x="3" y="92" width="6" height="6" fill="#00ff00"/>
<rect x="5" y="94" width="2" height="2" fill="#ffffff"/>
<rect x="1590" y="92" width="6" height="6" fill="#00ff00"/>
<rect x="1592" y="94" width="2" height="2" fill="#ffffff"/>
<rect x="3" y="119" width="6" height="6" fill="#0000ff"/>
<rect x="5" y="121" width="2" height="2" fill="#ffffff"/>
<rect x="1590" y="119" width="6" height="6" fill="#0000ff"/>
<rect x="1592" y="121" width="2" height="2" fill="#ffffff"/>
<rect x="1272" y="25" width="9" height="1" fill="#c0c0c0"/>
<rect x="1273" y="26" width="7" height="1" fill="#c0c0c0"/>
<rect x="1274" y="27" width="5" height="1" fill="#c0c0c0"/>
<rect x="1275" y="28" width="3" height="1" fill="#c0c0c0"/>
<rect x="1276" y="29" width="1" height="1" fill="#c0c0c0"/>
<rect x="1597" y="31" width="2" height="1" fill="#000000"/>
<rect x="1597" y="64" width="2" height="1" fill="#000000"/>
<rect x="1597" y="97" width="2" height="1" fill="#000000"/>
<rect x="1597" y="130" width="2" height="1" fill="#000000"/>
<rect x="1597" y="163" width="2" height="1" fill="#000000"/>
<rect x="1597" y="196" width="2" height="1" fill="#000000"/>
<rect x="1597" y="229" width="2" height="1" fill="#000000"/>
<rect x="1597" y="262" width="2" height="1" fill="#000000"/>
<rect x="1597" y="295" width="2" height="1" fill="#000000"/>
<rect x="1597" y="328" width="2" height="1" fill="#000000"/>
<rect x="1597" y="361" width="2" height="1" fill="#000000"/>
<rect x="1597" y="394" width="2" height="1" fill="#000000"/>
<rect x="1597" y="427" width="2" height="1" fill="#000000"/>
<rect x="1597" y="460" width="2" height="1" fill="#000000"/>
<rect x="1597" y="493" width="2" height="1" fill="#000000"/>
<rect x="1597" y="526" width="2" height="1" fill="#000000"/>
</g>
<text x="1602" y="35" font-size="10.0" fill="#000" stroke="#000" stroke-width="0.25" textLength="33.2" lengthAdjust="spacingAndGlyphs">0.73435</text>
<text x="1602" y="68" font-size="10.0" fill="#000" stroke="#000" stroke-width="0.25" textLength="33.2" lengthAdjust="spacingAndGlyphs">0.72175</text>
<text x="1602" y="101" font-size="10.0" fill="#000" stroke="#000" stroke-width="0.25" textLength="33.2" lengthAdjust="spacingAndGlyphs">0.70950</text>
<text x="1602" y="134" font-size="10.0" fill="#000" stroke="#000" stroke-width="0.25" textLength="33.2" lengthAdjust="spacingAndGlyphs">0.69690</text>
<text x="1602" y="167" font-size="10.0" fill="#000" stroke="#000" stroke-width="0.25" textLength="33.2" lengthAdjust="spacingAndGlyphs">0.68430</text>
<text x="1602" y="200" font-size="10.0" fill="#000" stroke="#000" stroke-width="0.25" textLength="33.2" lengthAdjust="spacingAndGlyphs">0.67205</text>
<text x="1602" y="233" font-size="10.0" fill="#000" stroke="#000" stroke-width="0.25" textLength="33.2" lengthAdjust="spacingAndGlyphs">0.65965</text>
<text x="1602" y="266" font-size="10.0" fill="#000" stroke="#000" stroke-width="0.25" textLength="33.2" lengthAdjust="spacingAndGlyphs">0.64720</text>
<text x="1602" y="299" font-size="10.0" fill="#000" stroke="#000" stroke-width="0.25" textLength="33.2" lengthAdjust="spacingAndGlyphs">0.63460</text>
<text x="1602" y="332" font-size="10.0" fill="#000" stroke="#000" stroke-width="0.25" textLength="33.2" lengthAdjust="spacingAndGlyphs">0.62200</text>
<text x="1602" y="365" font-size="10.0" fill="#000" stroke="#000" stroke-width="0.25" textLength="33.2" lengthAdjust="spacingAndGlyphs">0.60975</text>
<text x="1602" y="398" font-size="10.0" fill="#000" stroke="#000" stroke-width="0.25" textLength="33.2" lengthAdjust="spacingAndGlyphs">0.59715</text>
<text x="1602" y="431" font-size="10.0" fill="#000" stroke="#000" stroke-width="0.25" textLength="33.2" lengthAdjust="spacingAndGlyphs">0.58490</text>
<text x="1602" y="464" font-size="10.0" fill="#000" stroke="#000" stroke-width="0.25" textLength="33.2" lengthAdjust="spacingAndGlyphs">0.57230</text>
<text x="1602" y="497" font-size="10.0" fill="#000" stroke="#000" stroke-width="0.25" textLength="33.2" lengthAdjust="spacingAndGlyphs">0.55970</text>
<text x="1602" y="530" font-size="10.0" fill="#000" stroke="#000" stroke-width="0.25" textLength="33.2" lengthAdjust="spacingAndGlyphs">0.54745</text>
<g shape-rendering="crispEdges">
<rect x="1598" y="36" width="39" height="11" fill="#ff0000"/>
<rect x="1598" y="62" width="39" height="11" fill="#ff0000"/>
<rect x="1598" y="89" width="39" height="11" fill="#00ff00"/>
<rect x="1598" y="116" width="39" height="11" fill="#0000ff"/>
<rect x="1598" y="142" width="39" height="11" fill="#0000ff"/>
<rect x="1598" y="75" width="39" height="11" fill="#000000"/>
</g>
<text x="1602" y="45" font-size="10.0" fill="#ffffff" stroke="#ffffff" stroke-width="0.25" textLength="33.2" lengthAdjust="spacingAndGlyphs">0.73033</text>
<text x="1602" y="71" font-size="10.0" fill="#ffffff" stroke="#ffffff" stroke-width="0.25" textLength="33.2" lengthAdjust="spacingAndGlyphs">0.72022</text>
<text x="1602" y="98" font-size="10.0" fill="#ffffff" stroke="#ffffff" stroke-width="0.25" textLength="33.2" lengthAdjust="spacingAndGlyphs">0.71010</text>
<text x="1602" y="125" font-size="10.0" fill="#ffffff" stroke="#ffffff" stroke-width="0.25" textLength="33.2" lengthAdjust="spacingAndGlyphs">0.69999</text>
<text x="1602" y="151" font-size="10.0" fill="#ffffff" stroke="#ffffff" stroke-width="0.25" textLength="33.2" lengthAdjust="spacingAndGlyphs">0.69025</text>
<text x="1602" y="84" font-size="10.0" fill="#ffffff" stroke="#ffffff" stroke-width="0.25" textLength="33.2" lengthAdjust="spacingAndGlyphs">0.71580</text>
<path d="M7 31 L14 31 L10.5 34.5 Z" fill="#000"/>
<text x="20" y="36" font-size="10.0" fill="#000" stroke="#000" stroke-width="0.25" textLength="65" lengthAdjust="spacingAndGlyphs">AUDUSD,Daily</text>
<text x="91" y="36" font-size="10.0" fill="#000" stroke="#000" stroke-width="0.25" textLength="140.8" lengthAdjust="spacingAndGlyphs">0.71676 0.71689 0.71518 0.71580</text>
<g shape-rendering="crispEdges">
<line x1="5" y1="559.5" x2="1596" y2="559.5" stroke="#c0c0c0" stroke-width="1" stroke-dasharray="3 3"/>
<line x1="5" y1="595.5" x2="1596" y2="595.5" stroke="#c0c0c0" stroke-width="1" stroke-dasharray="3 3"/>
<rect x="1597" y="622" width="1" height="1" fill="#000000"/>
<rect x="1597" y="627" width="1" height="1" fill="#000000"/>
<rect x="1597" y="532" width="1" height="1" fill="#000000"/>
<rect x="1597" y="716" width="1" height="1" fill="#000000"/>
<rect x="1597" y="559" width="2" height="1" fill="#000000"/>
<rect x="1597" y="595" width="2" height="1" fill="#000000"/>
<rect x="1597" y="662" width="2" height="1" fill="#000000"/>
</g>
<path d="M4 584h1v1h-1zM5 585h1v1h-1zM6 586h1v1h-1zM7 587h2v1h-2zM9 588h2v1h-2zM11 589h2v1h-2zM13 588h3v1h-3zM16 587h1v1h-1zM17 586h1v2h-1zM18 585h1v1h-1zM19 584h1v1h-1zM20 583h2v1h-2zM22 584h1v1h-1zM23 585h2v1h-2zM25 586h2v1h-2zM27 587h2v1h-2zM29 588h4v1h-4zM33 589h5v1h-5zM38 590h5v1h-5zM43 591h2v1h-2zM45 588h1v3h-1zM46 586h1v2h-1zM47 584h1v2h-1zM48 582h1v2h-1zM49 580h1v2h-1zM50 578h1v2h-1zM51 576h1v2h-1zM52 575h1v1h-1zM53 574h1v1h-1zM54 573h2v1h-2zM56 572h1v1h-1zM57 570h1v2h-1zM58 569h1v1h-1zM59 568h1v1h-1zM60 567h2v1h-2zM62 568h3v1h-3zM65 567h1v1h-1zM66 566h2v1h-2zM68 565h3v1h-3zM71 566h2v1h-2zM73 567h1v1h-1zM74 568h2v1h-2zM76 569h1v1h-1zM77 568h2v1h-2zM79 567h1v1h-1zM80 566h3v1h-3zM83 565h4v1h-4zM87 566h2v1h-2zM89 567h1v1h-1zM90 568h1v1h-1zM91 569h1v1h-1zM92 570h4v1h-4zM96 571h1v1h-1zM97 572h1v1h-1zM98 573h1v1h-1zM99 574h1v2h-1zM100 576h1v1h-1zM101 577h1v2h-1zM102 579h1v2h-1zM103 581h1v1h-1zM104 582h1v1h-1zM105 583h1v1h-1zM106 584h1v1h-1zM107 585h1v1h-1zM108 586h2v1h-2zM110 587h4v1h-4zM114 586h2v1h-2zM116 585h1v1h-1zM117 584h1v1h-1zM118 583h2v1h-2zM120 582h1v2h-1zM121 584h1v1h-1zM122 585h1v2h-1zM123 587h1v1h-1zM124 588h2v1h-2zM126 587h3v1h-3zM129 586h2v1h-2zM131 585h7v1h-7zM138 586h1v1h-1zM139 587h1v1h-1zM140 588h1v1h-1zM141 589h1v2h-1zM142 591h1v1h-1zM143 592h1v1h-1zM144 593h4v1h-4zM148 592h1v2h-1zM149 589h1v3h-1zM150 586h1v3h-1zM151 584h1v2h-1zM152 583h1v1h-1zM153 582h1v1h-1zM154 581h1v1h-1zM155 580h2v1h-2zM157 579h4v1h-4zM161 580h1v1h-1zM162 581h1v1h-1zM163 582h1v1h-1zM164 583h1v1h-1zM165 584h2v1h-2zM167 585h1v1h-1zM168 586h2v1h-2zM170 585h2v1h-2zM172 584h1v2h-1zM173 582h1v2h-1zM174 581h1v1h-1zM175 579h1v2h-1zM176 577h1v2h-1zM177 576h1v1h-1zM178 574h1v2h-1zM179 573h1v1h-1zM180 572h4v1h-4zM184 573h1v1h-1zM185 574h1v1h-1zM186 575h1v2h-1zM187 577h1v1h-1zM188 578h2v1h-2zM190 579h2v1h-2zM192 580h3v1h-3zM195 581h1v1h-1zM196 578h1v3h-1zM197 576h1v2h-1zM198 573h1v3h-1zM199 571h1v2h-1zM200 570h1v1h-1zM201 569h1v1h-1zM202 568h1v1h-1zM203 567h3v1h-3zM206 566h2v1h-2zM208 565h9v1h-9zM217 566h1v1h-1zM218 567h1v1h-1zM219 568h1v1h-1zM220 569h1v2h-1zM221 571h1v1h-1zM222 572h1v2h-1zM223 574h1v1h-1zM224 575h1v1h-1zM225 574h1v1h-1zM226 573h4v1h-4zM230 574h2v1h-2zM232 575h1v1h-1zM233 574h1v1h-1zM234 573h1v1h-1zM235 572h1v1h-1zM236 571h1v1h-1zM237 570h1v1h-1zM238 569h2v1h-2zM240 568h3v1h-3zM243 567h2v1h-2zM245 566h1v1h-1zM246 565h1v1h-1zM247 564h1v1h-1zM248 563h2v1h-2zM250 562h2v1h-2zM252 561h3v1h-3zM255 562h2v1h-2zM257 563h3v1h-3zM260 564h3v1h-3zM263 565h2v1h-2zM265 566h3v1h-3zM268 567h4v1h-4zM272 568h1v1h-1zM273 569h1v2h-1zM274 571h1v2h-1zM275 573h1v1h-1zM276 574h1v1h-1zM277 575h3v1h-3zM280 576h3v1h-3zM283 577h2v1h-2zM285 578h3v1h-3zM288 579h1v1h-1zM289 580h2v1h-2zM291 581h1v1h-1zM292 582h1v3h-1zM293 585h1v2h-1zM294 587h1v2h-1zM295 589h1v2h-1zM296 590h1v2h-1zM297 588h1v2h-1zM298 586h1v2h-1zM299 584h1v2h-1zM300 583h2v1h-2zM302 582h7v1h-7zM309 581h2v1h-2zM311 580h2v1h-2zM313 581h1v1h-1zM314 582h1v1h-1zM315 583h1v1h-1zM316 584h3v1h-3zM319 585h3v1h-3zM322 586h2v1h-2zM324 587h3v1h-3zM327 588h2v1h-2zM329 589h2v1h-2zM331 590h2v1h-2zM333 589h1v1h-1zM334 588h1v1h-1zM335 587h1v1h-1zM336 586h3v1h-3zM339 587h3v1h-3zM342 588h1v1h-1zM343 589h2v1h-2zM345 590h7v1h-7zM352 587h1v3h-1zM353 583h1v4h-1zM354 580h1v3h-1zM355 576h1v4h-1zM356 575h1v1h-1zM357 574h1v1h-1zM358 573h1v1h-1zM359 572h1v1h-1zM360 571h1v1h-1zM361 570h1v1h-1zM362 569h1v1h-1zM363 568h1v1h-1zM364 568h1v2h-1zM365 570h1v1h-1zM366 571h1v2h-1zM367 573h1v2h-1zM368 575h1v1h-1zM369 574h4v1h-4zM373 573h2v1h-2zM375 572h3v1h-3zM378 573h2v1h-2zM380 574h1v1h-1zM381 575h1v1h-1zM382 576h1v2h-1zM383 578h1v1h-1zM384 578h1v2h-1zM385 576h1v2h-1zM386 574h1v2h-1zM387 572h1v2h-1zM388 570h1v2h-1zM389 568h1v2h-1zM390 567h1v1h-1zM391 565h1v2h-1zM392 564h1v1h-1zM393 565h1v1h-1zM394 566h1v2h-1zM395 568h1v1h-1zM396 569h3v1h-3zM399 570h2v1h-2zM401 569h1v1h-1zM402 568h1v1h-1zM403 567h1v1h-1zM404 566h1v1h-1zM405 567h1v2h-1zM406 569h1v2h-1zM407 571h1v2h-1zM408 573h1v1h-1zM409 574h1v1h-1zM410 573h3v1h-3zM413 572h2v1h-2zM415 571h2v1h-2zM417 570h1v1h-1zM418 569h1v1h-1zM419 568h1v1h-1zM420 567h4v1h-4zM424 568h1v1h-1zM425 567h2v1h-2zM427 566h2v1h-2zM429 565h2v1h-2zM431 564h3v1h-3zM434 565h2v1h-2zM436 566h1v1h-1zM437 565h1v1h-1zM438 564h1v1h-1zM439 563h1v1h-1zM440 562h1v2h-1zM441 561h1v1h-1zM442 560h1v1h-1zM443 559h1v1h-1zM444 558h2v1h-2zM446 559h2v1h-2zM448 560h1v1h-1zM449 559h2v1h-2zM451 558h2v1h-2zM453 557h1v1h-1zM454 556h1v1h-1zM455 555h3v1h-3zM458 556h1v1h-1zM459 557h2v1h-2zM461 558h1v1h-1zM462 559h1v1h-1zM463 560h1v1h-1zM464 561h1v3h-1zM465 564h1v2h-1zM466 566h1v2h-1zM467 568h1v3h-1zM468 571h5v1h-5zM473 572h1v1h-1zM474 573h1v2h-1zM475 575h1v2h-1zM476 577h1v1h-1zM477 578h1v2h-1zM478 580h1v2h-1zM479 582h1v1h-1zM480 583h1v2h-1zM481 585h2v1h-2zM483 586h2v1h-2zM485 587h3v1h-3zM488 586h1v2h-1zM489 584h1v2h-1zM490 582h1v2h-1zM491 580h1v2h-1zM492 579h1v1h-1zM493 578h11v1h-11zM504 579h2v1h-2zM506 578h4v1h-4zM510 579h2v1h-2zM512 580h1v1h-1zM513 581h2v1h-2zM515 582h1v1h-1zM516 583h6v1h-6zM522 584h3v1h-3zM525 585h3v1h-3zM528 586h1v1h-1zM529 587h1v1h-1zM530 588h1v1h-1zM531 589h1v1h-1zM532 590h1v1h-1zM533 589h2v1h-2zM535 588h1v1h-1zM536 587h1v1h-1zM537 588h1v1h-1zM538 589h1v1h-1zM539 590h1v1h-1zM540 591h4v1h-4zM544 592h1v2h-1zM545 594h1v2h-1zM546 596h1v2h-1zM547 598h1v1h-1zM548 599h4v1h-4zM552 600h3v1h-3zM555 601h2v1h-2zM557 602h1v1h-1zM558 603h2v1h-2zM560 604h4v1h-4zM564 605h2v1h-2zM566 604h5v1h-5zM571 603h1v2h-1zM572 601h1v2h-1zM573 599h1v2h-1zM574 596h1v3h-1zM575 595h1v1h-1zM576 594h1v1h-1zM577 593h1v1h-1zM578 592h1v1h-1zM579 591h1v1h-1zM580 590h3v1h-3zM583 591h2v1h-2zM585 592h1v2h-1zM586 594h1v2h-1zM587 596h1v1h-1zM588 597h3v1h-3zM591 598h2v1h-2zM593 597h3v1h-3zM596 594h1v3h-1zM597 592h1v2h-1zM598 590h1v2h-1zM599 588h1v2h-1zM600 586h1v2h-1zM601 585h1v1h-1zM602 584h1v1h-1zM603 583h1v1h-1zM604 582h2v1h-2zM606 583h3v1h-3zM609 584h2v1h-2zM611 585h2v1h-2zM613 586h2v1h-2zM615 587h3v1h-3zM618 586h3v1h-3zM621 587h2v1h-2zM623 588h1v1h-1zM624 589h2v1h-2zM626 590h1v1h-1zM627 591h1v1h-1zM628 592h1v2h-1zM629 594h1v1h-1zM630 595h1v2h-1zM631 597h1v1h-1zM632 598h1v1h-1zM633 597h2v1h-2zM635 596h7v1h-7zM642 597h2v1h-2zM644 598h3v1h-3zM647 599h1v1h-1zM648 599h1v2h-1zM649 601h1v1h-1zM650 602h1v1h-1zM651 603h2v1h-2zM653 602h1v1h-1zM654 600h1v2h-1zM655 599h1v1h-1zM656 599h1v2h-1zM657 601h1v2h-1zM658 603h1v1h-1zM659 604h1v1h-1zM660 603h1v3h-1zM661 600h1v3h-1zM662 597h1v3h-1zM663 595h1v2h-1zM664 594h4v1h-4zM668 590h1v4h-1zM669 587h1v3h-1zM670 584h1v3h-1zM671 581h1v3h-1zM672 580h6v1h-6zM678 581h2v1h-2zM680 582h1v1h-1zM681 581h1v1h-1zM682 580h1v1h-1zM683 579h2v1h-2zM685 578h3v1h-3zM688 577h3v1h-3zM691 576h1v1h-1zM692 576h1v4h-1zM693 580h1v4h-1zM694 584h1v4h-1zM695 588h1v4h-1zM696 591h1v2h-1zM697 590h1v1h-1zM698 589h1v1h-1zM699 588h1v1h-1zM700 588h1v3h-1zM701 591h1v2h-1zM702 593h1v3h-1zM703 596h1v2h-1zM704 598h1v1h-1zM705 599h1v1h-1zM706 600h1v1h-1zM707 601h1v1h-1zM708 602h7v1h-7zM715 603h2v1h-2zM717 604h1v1h-1zM718 605h2v1h-2zM720 606h1v1h-1zM721 607h2v1h-2zM723 608h4v1h-4zM727 607h12v1h-12zM739 608h1v1h-1zM740 604h1v5h-1zM741 600h1v4h-1zM742 596h1v4h-1zM743 595h1v1h-1zM744 594h1v1h-1zM745 593h2v1h-2zM747 592h1v1h-1zM748 591h1v1h-1zM749 590h1v1h-1zM750 588h1v2h-1zM751 587h1v1h-1zM752 586h1v1h-1zM753 585h1v1h-1zM754 584h1v1h-1zM755 583h1v1h-1zM756 582h1v1h-1zM757 581h1v1h-1zM758 580h1v1h-1zM759 579h1v1h-1zM760 578h2v1h-2zM762 579h2v1h-2zM764 580h3v1h-3zM767 581h4v1h-4zM771 582h2v1h-2zM773 583h2v1h-2zM775 584h2v1h-2zM777 585h2v1h-2zM779 586h2v1h-2zM781 587h3v1h-3zM784 586h1v1h-1zM785 584h1v2h-1zM786 583h1v1h-1zM787 581h1v2h-1zM788 580h1v1h-1zM789 578h1v2h-1zM790 577h1v1h-1zM791 576h1v1h-1zM792 575h1v1h-1zM793 574h2v1h-2zM795 573h2v1h-2zM797 572h1v1h-1zM798 571h1v1h-1zM799 570h1v1h-1zM800 569h2v1h-2zM802 568h3v1h-3zM805 567h5v1h-5zM810 566h3v1h-3zM813 565h2v1h-2zM815 564h1v1h-1zM816 564h1v2h-1zM817 566h1v2h-1zM818 568h1v2h-1zM819 570h1v1h-1zM820 571h2v1h-2zM822 572h2v1h-2zM824 573h1v1h-1zM825 572h1v1h-1zM826 571h2v1h-2zM828 570h5v1h-5zM833 569h3v1h-3zM836 568h1v2h-1zM837 570h1v2h-1zM838 572h1v2h-1zM839 574h1v2h-1zM840 576h1v1h-1zM841 575h2v1h-2zM843 574h2v1h-2zM845 573h1v1h-1zM846 572h1v1h-1zM847 571h1v1h-1zM848 570h4v1h-4zM852 571h5v1h-5zM857 570h1v1h-1zM858 568h1v2h-1zM859 567h1v1h-1zM860 566h1v1h-1zM861 565h2v1h-2zM863 564h2v1h-2zM865 563h2v1h-2zM867 562h3v1h-3zM870 563h1v1h-1zM871 563h1v2h-1zM872 565h1v2h-1zM873 567h1v2h-1zM874 569h1v2h-1zM875 571h1v1h-1zM876 572h2v1h-2zM878 573h7v1h-7zM885 572h2v1h-2zM887 571h1v1h-1zM888 570h1v1h-1zM889 571h2v1h-2zM891 572h1v1h-1zM892 573h2v1h-2zM894 571h1v2h-1zM895 570h1v1h-1zM896 568h1v2h-1zM897 567h2v1h-2zM899 566h5v1h-5zM904 567h1v1h-1zM905 568h1v1h-1zM906 569h1v2h-1zM907 571h1v1h-1zM908 572h1v1h-1zM909 571h2v1h-2zM911 570h2v1h-2zM913 571h1v1h-1zM914 572h1v1h-1zM915 573h1v1h-1zM916 574h2v1h-2zM918 575h1v1h-1zM919 576h1v1h-1zM920 577h3v1h-3zM923 578h4v1h-4zM927 577h1v1h-1zM928 576h1v2h-1zM929 575h1v1h-1zM930 573h1v2h-1zM931 571h1v2h-1zM932 570h1v1h-1zM933 569h1v1h-1zM934 568h1v1h-1zM935 567h2v1h-2zM937 566h2v1h-2zM939 565h2v1h-2zM941 566h1v1h-1zM942 567h1v1h-1zM943 568h1v1h-1zM944 569h2v1h-2zM946 570h1v1h-1zM947 571h1v1h-1zM948 572h1v1h-1zM949 571h3v1h-3zM952 570h4v1h-4zM956 569h1v2h-1zM957 567h1v2h-1zM958 566h1v1h-1zM959 565h1v1h-1zM960 564h1v2h-1zM961 566h1v1h-1zM962 567h1v1h-1zM963 568h2v1h-2zM965 567h1v1h-1zM966 566h2v1h-2zM968 565h2v1h-2zM970 566h3v1h-3zM973 567h1v1h-1zM974 566h3v1h-3zM977 565h1v1h-1zM978 563h1v2h-1zM979 562h1v1h-1zM980 560h1v2h-1zM981 559h1v1h-1zM982 558h1v1h-1zM983 557h1v1h-1zM984 556h1v1h-1zM985 555h2v1h-2zM987 554h6v1h-6zM993 553h6v1h-6zM999 554h2v1h-2zM1001 555h1v1h-1zM1002 554h4v1h-4zM1006 555h2v1h-2zM1008 556h1v1h-1zM1009 557h1v1h-1zM1010 556h1v1h-1zM1011 555h1v1h-1zM1012 555h1v3h-1zM1013 558h1v3h-1zM1014 561h1v3h-1zM1015 564h1v3h-1zM1016 567h2v1h-2zM1018 568h1v1h-1zM1019 569h1v1h-1zM1020 570h4v1h-4zM1024 571h1v1h-1zM1025 570h4v1h-4zM1029 569h2v1h-2zM1031 568h1v1h-1zM1032 567h5v1h-5zM1037 568h1v1h-1zM1038 569h1v1h-1zM1039 570h1v2h-1zM1040 572h9v1h-9zM1049 571h1v1h-1zM1050 570h1v1h-1zM1051 568h1v2h-1zM1052 567h2v1h-2zM1054 566h1v1h-1zM1055 565h1v1h-1zM1056 565h1v2h-1zM1057 567h1v2h-1zM1058 569h1v2h-1zM1059 571h1v2h-1zM1060 573h8v1h-8zM1068 574h7v1h-7zM1075 575h1v1h-1zM1076 574h1v1h-1zM1077 573h1v1h-1zM1078 572h1v1h-1zM1079 571h1v1h-1zM1080 570h2v1h-2zM1082 569h6v1h-6zM1088 568h2v1h-2zM1090 567h6v1h-6zM1096 566h2v1h-2zM1098 565h2v1h-2zM1100 564h5v1h-5zM1105 565h6v1h-6zM1111 566h2v1h-2zM1113 567h6v1h-6zM1119 568h3v1h-3zM1122 567h1v1h-1zM1123 566h1v1h-1zM1124 565h2v1h-2zM1126 566h2v1h-2zM1128 567h1v1h-1zM1129 566h1v1h-1zM1130 565h2v1h-2zM1132 564h2v1h-2zM1134 563h3v1h-3zM1137 564h1v1h-1zM1138 565h2v1h-2zM1140 566h1v1h-1zM1141 565h3v1h-3zM1144 564h4v1h-4zM1148 562h1v3h-1zM1149 560h1v2h-1zM1150 558h1v2h-1zM1151 556h1v2h-1zM1152 555h1v1h-1zM1153 554h2v1h-2zM1155 553h3v1h-3zM1158 554h2v1h-2zM1160 555h1v1h-1zM1161 556h1v2h-1zM1162 558h1v2h-1zM1163 560h1v2h-1zM1164 562h5v1h-5zM1169 561h1v1h-1zM1170 560h2v1h-2zM1172 559h1v1h-1zM1173 558h2v1h-2zM1175 557h6v1h-6zM1181 558h1v1h-1zM1182 559h1v1h-1zM1183 560h1v1h-1zM1184 561h6v1h-6zM1190 562h2v1h-2zM1192 563h1v2h-1zM1193 565h1v1h-1zM1194 566h1v2h-1zM1195 568h1v1h-1zM1196 569h2v1h-2zM1198 567h1v2h-1zM1199 566h1v1h-1zM1200 565h1v1h-1zM1201 564h1v1h-1zM1202 562h1v2h-1zM1203 561h1v1h-1zM1204 560h1v1h-1zM1205 559h3v1h-3zM1208 559h1v2h-1zM1209 561h1v2h-1zM1210 563h1v3h-1zM1211 566h1v2h-1zM1212 568h2v1h-2zM1214 569h1v1h-1zM1215 570h1v1h-1zM1216 571h1v1h-1zM1217 570h2v1h-2zM1219 569h5v1h-5zM1224 570h1v1h-1zM1225 569h7v1h-7zM1232 570h2v1h-2zM1234 569h4v1h-4zM1238 568h3v1h-3zM1241 567h2v1h-2zM1243 566h1v1h-1zM1244 565h1v1h-1zM1245 564h1v1h-1zM1246 563h2v1h-2zM1248 562h4v1h-4zM1252 563h1v2h-1zM1253 565h1v2h-1zM1254 567h1v2h-1zM1255 569h1v2h-1zM1256 571h1v1h-1zM1257 572h1v1h-1zM1258 573h1v1h-1zM1259 574h1v1h-1zM1260 575h1v1h-1zM1261 576h1v1h-1zM1262 575h7v1h-7z" fill="#1e90ff" shape-rendering="crispEdges"/>
<text x="8" y="544" font-size="10.0" fill="#000" stroke="#000" stroke-width="0.25" textLength="67.3" lengthAdjust="spacingAndGlyphs">RSI(14) 52.4781</text>
<text x="1600" y="542" font-size="10.0" fill="#000" stroke="#000" stroke-width="0.25" textLength="14.5" lengthAdjust="spacingAndGlyphs">100</text>
<text x="1600" y="563" font-size="10.0" fill="#000" stroke="#000" stroke-width="0.25" textLength="9.6" lengthAdjust="spacingAndGlyphs">70</text>
<text x="1600" y="599" font-size="10.0" fill="#000" stroke="#000" stroke-width="0.25" textLength="9.6" lengthAdjust="spacingAndGlyphs">30</text>
<text x="1600" y="620" font-size="10.0" fill="#000" stroke="#000" stroke-width="0.25" textLength="5" lengthAdjust="spacingAndGlyphs">0</text>
<g shape-rendering="crispEdges">
<rect x="4" y="662" width="1" height="7" fill="#c0c0c0"/>
<rect x="8" y="662" width="1" height="7" fill="#c0c0c0"/>
<rect x="12" y="662" width="1" height="7" fill="#c0c0c0"/>
<rect x="16" y="662" width="1" height="7" fill="#c0c0c0"/>
<rect x="20" y="662" width="1" height="7" fill="#c0c0c0"/>
<rect x="24" y="662" width="1" height="7" fill="#c0c0c0"/>
<rect x="28" y="662" width="1" height="7" fill="#c0c0c0"/>
<rect x="32" y="662" width="1" height="7" fill="#c0c0c0"/>
<rect x="36" y="662" width="1" height="7" fill="#c0c0c0"/>
<rect x="40" y="662" width="1" height="6" fill="#c0c0c0"/>
<rect x="44" y="662" width="1" height="6" fill="#c0c0c0"/>
<rect x="48" y="662" width="1" height="5" fill="#c0c0c0"/>
<rect x="52" y="662" width="1" height="5" fill="#c0c0c0"/>
<rect x="56" y="662" width="1" height="4" fill="#c0c0c0"/>
<rect x="60" y="662" width="1" height="2" fill="#c0c0c0"/>
<rect x="64" y="662" width="1" height="1" fill="#c0c0c0"/>
<rect x="72" y="662" width="1" height="1" fill="#c0c0c0"/>
<rect x="76" y="662" width="1" height="1" fill="#c0c0c0"/>
<rect x="80" y="661" width="1" height="2" fill="#c0c0c0"/>
<rect x="84" y="660" width="1" height="3" fill="#c0c0c0"/>
<rect x="88" y="660" width="1" height="3" fill="#c0c0c0"/>
<rect x="92" y="659" width="1" height="4" fill="#c0c0c0"/>
<rect x="96" y="660" width="1" height="3" fill="#c0c0c0"/>
<rect x="100" y="660" width="1" height="3" fill="#c0c0c0"/>
<rect x="104" y="661" width="1" height="2" fill="#c0c0c0"/>
<rect x="108" y="662" width="1" height="1" fill="#c0c0c0"/>
<rect x="120" y="662" width="1" height="1" fill="#c0c0c0"/>
<rect x="124" y="662" width="1" height="1" fill="#c0c0c0"/>
<rect x="128" y="662" width="1" height="2" fill="#c0c0c0"/>
<rect x="132" y="662" width="1" height="2" fill="#c0c0c0"/>
<rect x="136" y="662" width="1" height="3" fill="#c0c0c0"/>
<rect x="140" y="662" width="1" height="3" fill="#c0c0c0"/>
<rect x="144" y="662" width="1" height="4" fill="#c0c0c0"/>
<rect x="148" y="662" width="1" height="4" fill="#c0c0c0"/>
<rect x="152" y="662" width="1" height="5" fill="#c0c0c0"/>
<rect x="156" y="662" width="1" height="5" fill="#c0c0c0"/>
<rect x="160" y="662" width="1" height="5" fill="#c0c0c0"/>
<rect x="164" y="662" width="1" height="5" fill="#c0c0c0"/>
<rect x="168" y="662" width="1" height="5" fill="#c0c0c0"/>
<rect x="172" y="662" width="1" height="5" fill="#c0c0c0"/>
<rect x="176" y="662" width="1" height="5" fill="#c0c0c0"/>
<rect x="180" y="662" width="1" height="4" fill="#c0c0c0"/>
<rect x="184" y="662" width="1" height="3" fill="#c0c0c0"/>
<rect x="188" y="662" width="1" height="2" fill="#c0c0c0"/>
<rect x="192" y="662" width="1" height="2" fill="#c0c0c0"/>
<rect x="196" y="662" width="1" height="1" fill="#c0c0c0"/>
<rect x="212" y="662" width="1" height="1" fill="#c0c0c0"/>
<rect x="216" y="661" width="1" height="2" fill="#c0c0c0"/>
<rect x="220" y="661" width="1" height="2" fill="#c0c0c0"/>
<rect x="224" y="660" width="1" height="3" fill="#c0c0c0"/>
<rect x="228" y="660" width="1" height="3" fill="#c0c0c0"/>
<rect x="232" y="660" width="1" height="3" fill="#c0c0c0"/>
<rect x="236" y="659" width="1" height="4" fill="#c0c0c0"/>
<rect x="240" y="659" width="1" height="4" fill="#c0c0c0"/>
<rect x="244" y="659" width="1" height="4" fill="#c0c0c0"/>
<rect x="248" y="658" width="1" height="5" fill="#c0c0c0"/>
<rect x="252" y="658" width="1" height="5" fill="#c0c0c0"/>
<rect x="256" y="658" width="1" height="5" fill="#c0c0c0"/>
<rect x="260" y="657" width="1" height="6" fill="#c0c0c0"/>
<rect x="264" y="657" width="1" height="6" fill="#c0c0c0"/>
<rect x="268" y="658" width="1" height="5" fill="#c0c0c0"/>
<rect x="272" y="658" width="1" height="5" fill="#c0c0c0"/>
<rect x="276" y="659" width="1" height="4" fill="#c0c0c0"/>
<rect x="280" y="660" width="1" height="3" fill="#c0c0c0"/>
<rect x="284" y="661" width="1" height="2" fill="#c0c0c0"/>
<rect x="288" y="661" width="1" height="2" fill="#c0c0c0"/>
<rect x="292" y="662" width="1" height="1" fill="#c0c0c0"/>
<rect x="316" y="662" width="1" height="1" fill="#c0c0c0"/>
<rect x="320" y="662" width="1" height="1" fill="#c0c0c0"/>
<rect x="324" y="662" width="1" height="1" fill="#c0c0c0"/>
<rect x="328" y="662" width="1" height="2" fill="#c0c0c0"/>
<rect x="332" y="662" width="1" height="2" fill="#c0c0c0"/>
<rect x="336" y="662" width="1" height="3" fill="#c0c0c0"/>
<rect x="340" y="662" width="1" height="3" fill="#c0c0c0"/>
<rect x="344" y="662" width="1" height="3" fill="#c0c0c0"/>
<rect x="348" y="662" width="1" height="3" fill="#c0c0c0"/>
<rect x="352" y="662" width="1" height="3" fill="#c0c0c0"/>
<rect x="356" y="662" width="1" height="3" fill="#c0c0c0"/>
<rect x="360" y="662" width="1" height="2" fill="#c0c0c0"/>
<rect x="364" y="662" width="1" height="1" fill="#c0c0c0"/>
<rect x="384" y="662" width="1" height="1" fill="#c0c0c0"/>
<rect x="388" y="662" width="1" height="1" fill="#c0c0c0"/>
<rect x="392" y="661" width="1" height="2" fill="#c0c0c0"/>
<rect x="396" y="661" width="1" height="2" fill="#c0c0c0"/>
<rect x="400" y="661" width="1" height="2" fill="#c0c0c0"/>
<rect x="404" y="660" width="1" height="3" fill="#c0c0c0"/>
<rect x="408" y="660" width="1" height="3" fill="#c0c0c0"/>
<rect x="412" y="660" width="1" height="3" fill="#c0c0c0"/>
<rect x="416" y="659" width="1" height="4" fill="#c0c0c0"/>
<rect x="420" y="659" width="1" height="4" fill="#c0c0c0"/>
<rect x="424" y="659" width="1" height="4" fill="#c0c0c0"/>
<rect x="428" y="659" width="1" height="4" fill="#c0c0c0"/>
<rect x="432" y="658" width="1" height="5" fill="#c0c0c0"/>
<rect x="436" y="658" width="1" height="5" fill="#c0c0c0"/>
<rect x="440" y="657" width="1" height="6" fill="#c0c0c0"/>
<rect x="444" y="657" width="1" height="6" fill="#c0c0c0"/>
<rect x="448" y="656" width="1" height="7" fill="#c0c0c0"/>
<rect x="452" y="655" width="1" height="8" fill="#c0c0c0"/>
<rect x="456" y="654" width="1" height="9" fill="#c0c0c0"/>
<rect x="460" y="654" width="1" height="9" fill="#c0c0c0"/>
<rect x="464" y="653" width="1" height="10" fill="#c0c0c0"/>
<rect x="468" y="654" width="1" height="9" fill="#c0c0c0"/>
<rect x="472" y="655" width="1" height="8" fill="#c0c0c0"/>
<rect x="476" y="657" width="1" height="6" fill="#c0c0c0"/>
<rect x="480" y="659" width="1" height="4" fill="#c0c0c0"/>
<rect x="484" y="661" width="1" height="2" fill="#c0c0c0"/>
<rect x="488" y="662" width="1" height="1" fill="#c0c0c0"/>
<rect x="524" y="662" width="1" height="1" fill="#c0c0c0"/>
<rect x="528" y="662" width="1" height="1" fill="#c0c0c0"/>
<rect x="532" y="662" width="1" height="2" fill="#c0c0c0"/>
<rect x="536" y="662" width="1" height="2" fill="#c0c0c0"/>
<rect x="540" y="662" width="1" height="3" fill="#c0c0c0"/>
<rect x="544" y="662" width="1" height="4" fill="#c0c0c0"/>
<rect x="548" y="662" width="1" height="5" fill="#c0c0c0"/>
<rect x="552" y="662" width="1" height="6" fill="#c0c0c0"/>
<rect x="556" y="662" width="1" height="7" fill="#c0c0c0"/>
<rect x="560" y="662" width="1" height="9" fill="#c0c0c0"/>
<rect x="564" y="662" width="1" height="10" fill="#c0c0c0"/>
<rect x="568" y="662" width="1" height="11" fill="#c0c0c0"/>
<rect x="572" y="662" width="1" height="11" fill="#c0c0c0"/>
<rect x="576" y="662" width="1" height="12" fill="#c0c0c0"/>
<rect x="580" y="662" width="1" height="11" fill="#c0c0c0"/>
<rect x="584" y="662" width="1" height="11" fill="#c0c0c0"/>
<rect x="588" y="662" width="1" height="11" fill="#c0c0c0"/>
<rect x="592" y="662" width="1" height="10" fill="#c0c0c0"/>
<rect x="596" y="662" width="1" height="10" fill="#c0c0c0"/>
<rect x="600" y="662" width="1" height="10" fill="#c0c0c0"/>
<rect x="604" y="662" width="1" height="9" fill="#c0c0c0"/>
<rect x="608" y="662" width="1" height="9" fill="#c0c0c0"/>
<rect x="612" y="662" width="1" height="8" fill="#c0c0c0"/>
<rect x="616" y="662" width="1" height="8" fill="#c0c0c0"/>
<rect x="620" y="662" width="1" height="7" fill="#c0c0c0"/>
<rect x="624" y="662" width="1" height="7" fill="#c0c0c0"/>
<rect x="628" y="662" width="1" height="7" fill="#c0c0c0"/>
<rect x="632" y="662" width="1" height="7" fill="#c0c0c0"/>
<rect x="636" y="662" width="1" height="7" fill="#c0c0c0"/>
<rect x="640" y="662" width="1" height="8" fill="#c0c0c0"/>
<rect x="644" y="662" width="1" height="8" fill="#c0c0c0"/>
<rect x="648" y="662" width="1" height="9" fill="#c0c0c0"/>
<rect x="652" y="662" width="1" height="10" fill="#c0c0c0"/>
<rect x="656" y="662" width="1" height="11" fill="#c0c0c0"/>
<rect x="660" y="662" width="1" height="12" fill="#c0c0c0"/>
<rect x="664" y="662" width="1" height="13" fill="#c0c0c0"/>
<rect x="668" y="662" width="1" height="13" fill="#c0c0c0"/>
<rect x="672" y="662" width="1" height="12" fill="#c0c0c0"/>
<rect x="676" y="662" width="1" height="11" fill="#c0c0c0"/>
<rect x="680" y="662" width="1" height="9" fill="#c0c0c0"/>
<rect x="684" y="662" width="1" height="8" fill="#c0c0c0"/>
<rect x="688" y="662" width="1" height="6" fill="#c0c0c0"/>
<rect x="692" y="662" width="1" height="6" fill="#c0c0c0"/>
<rect x="696" y="662" width="1" height="7" fill="#c0c0c0"/>
<rect x="700" y="662" width="1" height="8" fill="#c0c0c0"/>
<rect x="704" y="662" width="1" height="14" fill="#c0c0c0"/>
<rect x="708" y="662" width="1" height="19" fill="#c0c0c0"/>
<rect x="712" y="662" width="1" height="24" fill="#c0c0c0"/>
<rect x="716" y="662" width="1" height="27" fill="#c0c0c0"/>
<rect x="720" y="662" width="1" height="32" fill="#c0c0c0"/>
<rect x="724" y="662" width="1" height="39" fill="#c0c0c0"/>
<rect x="728" y="662" width="1" height="43" fill="#c0c0c0"/>
<rect x="732" y="662" width="1" height="46" fill="#c0c0c0"/>
<rect x="736" y="662" width="1" height="48" fill="#c0c0c0"/>
<rect x="740" y="662" width="1" height="50" fill="#c0c0c0"/>
<rect x="744" y="662" width="1" height="48" fill="#c0c0c0"/>
<rect x="748" y="662" width="1" height="46" fill="#c0c0c0"/>
<rect x="752" y="662" width="1" height="42" fill="#c0c0c0"/>
<rect x="756" y="662" width="1" height="36" fill="#c0c0c0"/>
<rect x="760" y="662" width="1" height="31" fill="#c0c0c0"/>
<rect x="764" y="662" width="1" height="27" fill="#c0c0c0"/>
<rect x="768" y="662" width="1" height="24" fill="#c0c0c0"/>
<rect x="772" y="662" width="1" height="21" fill="#c0c0c0"/>
<rect x="776" y="662" width="1" height="21" fill="#c0c0c0"/>
<rect x="780" y="662" width="1" height="20" fill="#c0c0c0"/>
<rect x="784" y="662" width="1" height="20" fill="#c0c0c0"/>
<rect x="788" y="662" width="1" height="18" fill="#c0c0c0"/>
<rect x="792" y="662" width="1" height="14" fill="#c0c0c0"/>
<rect x="796" y="662" width="1" height="11" fill="#c0c0c0"/>
<rect x="800" y="662" width="1" height="6" fill="#c0c0c0"/>
<rect x="804" y="662" width="1" height="2" fill="#c0c0c0"/>
<rect x="808" y="661" width="1" height="2" fill="#c0c0c0"/>
<rect x="812" y="659" width="1" height="4" fill="#c0c0c0"/>
<rect x="816" y="656" width="1" height="7" fill="#c0c0c0"/>
<rect x="820" y="655" width="1" height="8" fill="#c0c0c0"/>
<rect x="824" y="655" width="1" height="8" fill="#c0c0c0"/>
<rect x="828" y="654" width="1" height="9" fill="#c0c0c0"/>
<rect x="832" y="654" width="1" height="9" fill="#c0c0c0"/>
<rect x="836" y="653" width="1" height="10" fill="#c0c0c0"/>
<rect x="840" y="653" width="1" height="10" fill="#c0c0c0"/>
<rect x="844" y="653" width="1" height="10" fill="#c0c0c0"/>
<rect x="848" y="653" width="1" height="10" fill="#c0c0c0"/>
<rect x="852" y="653" width="1" height="10" fill="#c0c0c0"/>
<rect x="856" y="652" width="1" height="11" fill="#c0c0c0"/>
<rect x="860" y="652" width="1" height="11" fill="#c0c0c0"/>
<rect x="864" y="650" width="1" height="13" fill="#c0c0c0"/>
<rect x="868" y="648" width="1" height="15" fill="#c0c0c0"/>
<rect x="872" y="647" width="1" height="16" fill="#c0c0c0"/>
<rect x="876" y="648" width="1" height="15" fill="#c0c0c0"/>
<rect x="880" y="649" width="1" height="14" fill="#c0c0c0"/>
<rect x="884" y="650" width="1" height="13" fill="#c0c0c0"/>
<rect x="888" y="651" width="1" height="12" fill="#c0c0c0"/>
<rect x="892" y="651" width="1" height="12" fill="#c0c0c0"/>
<rect x="896" y="651" width="1" height="12" fill="#c0c0c0"/>
<rect x="900" y="651" width="1" height="12" fill="#c0c0c0"/>
<rect x="904" y="651" width="1" height="12" fill="#c0c0c0"/>
<rect x="908" y="651" width="1" height="12" fill="#c0c0c0"/>
<rect x="912" y="651" width="1" height="12" fill="#c0c0c0"/>
<rect x="916" y="652" width="1" height="11" fill="#c0c0c0"/>
<rect x="920" y="653" width="1" height="10" fill="#c0c0c0"/>
<rect x="924" y="655" width="1" height="8" fill="#c0c0c0"/>
<rect x="928" y="657" width="1" height="6" fill="#c0c0c0"/>
<rect x="932" y="656" width="1" height="7" fill="#c0c0c0"/>
<rect x="936" y="655" width="1" height="8" fill="#c0c0c0"/>
<rect x="940" y="654" width="1" height="9" fill="#c0c0c0"/>
<rect x="944" y="653" width="1" height="10" fill="#c0c0c0"/>
<rect x="948" y="654" width="1" height="9" fill="#c0c0c0"/>
<rect x="952" y="654" width="1" height="9" fill="#c0c0c0"/>
<rect x="956" y="653" width="1" height="10" fill="#c0c0c0"/>
<rect x="960" y="652" width="1" height="11" fill="#c0c0c0"/>
<rect x="964" y="651" width="1" height="12" fill="#c0c0c0"/>
<rect x="968" y="651" width="1" height="12" fill="#c0c0c0"/>
<rect x="972" y="650" width="1" height="13" fill="#c0c0c0"/>
<rect x="976" y="650" width="1" height="13" fill="#c0c0c0"/>
<rect x="980" y="647" width="1" height="16" fill="#c0c0c0"/>
<rect x="984" y="644" width="1" height="19" fill="#c0c0c0"/>
<rect x="988" y="640" width="1" height="23" fill="#c0c0c0"/>
<rect x="992" y="638" width="1" height="25" fill="#c0c0c0"/>
<rect x="996" y="635" width="1" height="28" fill="#c0c0c0"/>
<rect x="1000" y="633" width="1" height="30" fill="#c0c0c0"/>
<rect x="1004" y="632" width="1" height="31" fill="#c0c0c0"/>
<rect x="1008" y="632" width="1" height="31" fill="#c0c0c0"/>
<rect x="1012" y="632" width="1" height="31" fill="#c0c0c0"/>
<rect x="1016" y="634" width="1" height="29" fill="#c0c0c0"/>
<rect x="1020" y="636" width="1" height="27" fill="#c0c0c0"/>
<rect x="1024" y="639" width="1" height="24" fill="#c0c0c0"/>
<rect x="1028" y="641" width="1" height="22" fill="#c0c0c0"/>
<rect x="1032" y="642" width="1" height="21" fill="#c0c0c0"/>
<rect x="1036" y="643" width="1" height="20" fill="#c0c0c0"/>
<rect x="1040" y="645" width="1" height="18" fill="#c0c0c0"/>
<rect x="1044" y="647" width="1" height="16" fill="#c0c0c0"/>
<rect x="1048" y="648" width="1" height="15" fill="#c0c0c0"/>
<rect x="1052" y="649" width="1" height="14" fill="#c0c0c0"/>
<rect x="1056" y="648" width="1" height="15" fill="#c0c0c0"/>
<rect x="1060" y="649" width="1" height="14" fill="#c0c0c0"/>
<rect x="1064" y="651" width="1" height="12" fill="#c0c0c0"/>
<rect x="1068" y="652" width="1" height="11" fill="#c0c0c0"/>
<rect x="1072" y="653" width="1" height="10" fill="#c0c0c0"/>
<rect x="1076" y="654" width="1" height="9" fill="#c0c0c0"/>
<rect x="1080" y="655" width="1" height="8" fill="#c0c0c0"/>
<rect x="1084" y="655" width="1" height="8" fill="#c0c0c0"/>
<rect x="1088" y="654" width="1" height="9" fill="#c0c0c0"/>
<rect x="1092" y="654" width="1" height="9" fill="#c0c0c0"/>
<rect x="1096" y="654" width="1" height="9" fill="#c0c0c0"/>
<rect x="1100" y="654" width="1" height="9" fill="#c0c0c0"/>
<rect x="1104" y="654" width="1" height="9" fill="#c0c0c0"/>
<rect x="1108" y="654" width="1" height="9" fill="#c0c0c0"/>
<rect x="1112" y="654" width="1" height="9" fill="#c0c0c0"/>
<rect x="1116" y="654" width="1" height="9" fill="#c0c0c0"/>
<rect x="1120" y="654" width="1" height="9" fill="#c0c0c0"/>
<rect x="1124" y="654" width="1" height="9" fill="#c0c0c0"/>
<rect x="1128" y="654" width="1" height="9" fill="#c0c0c0"/>
<rect x="1132" y="654" width="1" height="9" fill="#c0c0c0"/>
<rect x="1136" y="654" width="1" height="9" fill="#c0c0c0"/>
<rect x="1140" y="654" width="1" height="9" fill="#c0c0c0"/>
<rect x="1144" y="654" width="1" height="9" fill="#c0c0c0"/>
<rect x="1148" y="654" width="1" height="9" fill="#c0c0c0"/>
<rect x="1152" y="653" width="1" height="10" fill="#c0c0c0"/>
<rect x="1156" y="651" width="1" height="12" fill="#c0c0c0"/>
<rect x="1160" y="650" width="1" height="13" fill="#c0c0c0"/>
<rect x="1164" y="649" width="1" height="14" fill="#c0c0c0"/>
<rect x="1168" y="649" width="1" height="14" fill="#c0c0c0"/>
<rect x="1172" y="649" width="1" height="14" fill="#c0c0c0"/>
<rect x="1176" y="649" width="1" height="14" fill="#c0c0c0"/>
<rect x="1180" y="648" width="1" height="15" fill="#c0c0c0"/>
<rect x="1184" y="648" width="1" height="15" fill="#c0c0c0"/>
<rect x="1188" y="649" width="1" height="14" fill="#c0c0c0"/>
<rect x="1192" y="649" width="1" height="14" fill="#c0c0c0"/>
<rect x="1196" y="650" width="1" height="13" fill="#c0c0c0"/>
<rect x="1200" y="650" width="1" height="13" fill="#c0c0c0"/>
<rect x="1204" y="649" width="1" height="14" fill="#c0c0c0"/>
<rect x="1208" y="649" width="1" height="14" fill="#c0c0c0"/>
<rect x="1212" y="650" width="1" height="13" fill="#c0c0c0"/>
<rect x="1216" y="650" width="1" height="13" fill="#c0c0c0"/>
<rect x="1220" y="651" width="1" height="12" fill="#c0c0c0"/>
<rect x="1224" y="652" width="1" height="11" fill="#c0c0c0"/>
<rect x="1228" y="653" width="1" height="10" fill="#c0c0c0"/>
<rect x="1232" y="654" width="1" height="9" fill="#c0c0c0"/>
<rect x="1236" y="654" width="1" height="9" fill="#c0c0c0"/>
<rect x="1240" y="654" width="1" height="9" fill="#c0c0c0"/>
<rect x="1244" y="654" width="1" height="9" fill="#c0c0c0"/>
<rect x="1248" y="653" width="1" height="10" fill="#c0c0c0"/>
<rect x="1252" y="653" width="1" height="10" fill="#c0c0c0"/>
<rect x="1256" y="654" width="1" height="9" fill="#c0c0c0"/>
<rect x="1260" y="655" width="1" height="8" fill="#c0c0c0"/>
<rect x="1264" y="657" width="1" height="6" fill="#c0c0c0"/>
<rect x="1268" y="657" width="1" height="6" fill="#c0c0c0"/>
</g>
<path d="M4 673h3v1h-3zM10 672h3v1h-3zM16 672h3v1h-3zM22 672h2v1h-2zM24 671h1v1h-1zM28 671h3v1h-3zM34 671h3v1h-3zM40 670h3v1h-3zM46 670h2v1h-2zM48 669h1v1h-1zM52 669h3v1h-3zM58 669h3v1h-3zM64 667h2v1h-2zM66 666h1v1h-1zM70 666h1v1h-1zM71 665h2v1h-2zM76 664h3v1h-3zM82 663h1v1h-1zM83 662h2v1h-2zM88 661h2v1h-2zM90 660h1v1h-1zM94 660h1v1h-1zM95 659h2v1h-2zM100 659h3v1h-3zM106 659h3v1h-3zM112 659h3v1h-3zM118 660h3v1h-3zM124 660h1v1h-1zM125 661h2v1h-2zM130 662h2v1h-2zM132 663h1v1h-1zM136 663h1v1h-1zM137 664h2v1h-2zM142 665h3v1h-3zM148 666h3v1h-3zM154 666h3v1h-3zM160 667h3v1h-3zM166 667h3v1h-3zM172 667h3v1h-3zM178 667h3v1h-3zM184 666h3v1h-3zM190 666h3v1h-3zM196 666h1v1h-1zM197 665h2v1h-2zM202 665h3v1h-3zM208 664h1v1h-1zM209 663h2v1h-2zM214 662h2v1h-2zM216 661h1v1h-1zM220 661h1v1h-1zM221 660h2v1h-2zM226 660h3v1h-3zM232 660h1v1h-1zM233 659h2v1h-2zM238 659h3v1h-3zM244 659h1v1h-1zM245 658h2v1h-2zM250 658h3v1h-3zM256 658h3v1h-3zM262 657h3v1h-3zM268 657h1v1h-1zM269 656h2v1h-2zM274 656h3v1h-3zM280 656h3v1h-3zM286 656h2v1h-2zM288 657h1v1h-1zM292 657h3v1h-3zM298 658h2v1h-2zM300 659h1v1h-1zM304 660h3v1h-3zM310 661h3v1h-3zM316 662h3v1h-3zM322 663h3v1h-3zM328 663h3v1h-3zM334 664h3v1h-3zM340 664h3v1h-3zM346 665h3v1h-3zM352 665h3v1h-3zM358 665h3v1h-3zM364 665h3v1h-3zM370 665h1v1h-1zM371 664h2v1h-2zM376 664h3v1h-3zM382 664h1v1h-1zM383 663h2v1h-2zM388 663h2v1h-2zM390 662h1v1h-1zM394 661h3v1h-3zM400 660h3v1h-3zM406 660h3v1h-3zM412 660h3v1h-3zM418 659h3v1h-3zM424 659h3v1h-3zM430 658h3v1h-3zM436 658h3v1h-3zM442 657h3v1h-3zM448 656h3v1h-3zM454 655h2v1h-2zM456 654h1v1h-1zM460 654h3v1h-3zM466 653h3v1h-3zM472 653h3v1h-3zM478 653h3v1h-3zM484 654h3v1h-3zM490 655h3v1h-3zM496 656h2v1h-2zM498 657h1v1h-1zM502 659h3v1h-3zM508 659h3v1h-3zM514 660h2v1h-2zM516 661h1v1h-1zM520 661h3v1h-3zM526 662h3v1h-3zM532 662h1v1h-1zM533 663h2v1h-2zM538 663h3v1h-3zM544 664h3v1h-3zM550 665h2v1h-2zM552 666h1v1h-1zM556 666h3v1h-3zM562 667h2v1h-2zM564 668h1v1h-1zM568 669h3v1h-3zM574 671h3v1h-3zM580 672h3v1h-3zM586 672h3v1h-3zM592 672h2v1h-2zM594 673h1v1h-1zM598 673h3v1h-3zM604 673h3v1h-3zM610 672h3v1h-3zM616 672h1v1h-1zM617 671h2v1h-2zM622 671h3v1h-3zM628 671h1v1h-1zM629 670h2v1h-2zM634 670h3v1h-3zM640 670h3v1h-3zM646 670h2v1h-2zM648 671h1v1h-1zM652 671h3v1h-3zM658 672h3v1h-3zM664 673h3v1h-3zM670 674h3v1h-3zM676 674h3v1h-3zM682 674h3v1h-3zM688 674h2v1h-2zM690 673h1v1h-1zM694 672h3v1h-3zM700 672h3v1h-3zM706 672h3v1h-3zM712 674h1v1h-1zM713 675h2v1h-2zM718 677h1v1h-1zM719 678h2v1h-2zM724 682h1v1h-1zM725 683h1v1h-1zM726 684h1v1h-1zM730 688h1v1h-1zM731 689h1v1h-1zM732 690h1v1h-1zM736 694h1v1h-1zM737 695h1v1h-1zM738 696h1v1h-1zM742 700h1v1h-1zM743 701h1v1h-1zM744 702h1v1h-1zM748 704h1v1h-1zM749 705h2v1h-2zM754 706h3v1h-3zM760 705h2v1h-2zM762 704h1v1h-1zM766 703h1v1h-1zM767 702h2v1h-2zM772 698h2v1h-2zM774 697h1v1h-1zM778 694h1v1h-1zM779 693h2v1h-2zM784 689h2v1h-2zM786 688h1v1h-1zM790 685h1v1h-1zM791 684h2v1h-2zM796 681h2v1h-2zM798 680h1v1h-1zM802 678h1v1h-1zM803 677h2v1h-2zM808 673h2v1h-2zM810 672h1v1h-1zM814 670h1v1h-1zM815 669h2v1h-2zM820 665h2v1h-2zM822 664h1v1h-1zM826 661h1v1h-1zM827 660h2v1h-2zM832 657h1v1h-1zM833 656h2v1h-2zM838 654h3v1h-3zM844 653h3v1h-3zM850 653h1v1h-1zM851 652h2v1h-2zM856 652h3v1h-3zM862 651h3v1h-3zM868 651h3v1h-3zM874 650h1v1h-1zM875 649h2v1h-2zM880 649h3v1h-3zM886 648h3v1h-3zM892 648h3v1h-3zM898 648h3v1h-3zM904 648h3v1h-3zM910 649h3v1h-3zM916 649h2v1h-2zM918 650h1v1h-1zM922 650h3v1h-3zM928 651h3v1h-3zM934 651h1v1h-1zM935 652h2v1h-2zM940 652h3v1h-3zM946 653h3v1h-3zM952 653h2v1h-2zM954 652h1v1h-1zM958 652h3v1h-3zM964 651h3v1h-3zM970 650h3v1h-3zM976 650h2v1h-2zM978 649h1v1h-1zM982 649h2v1h-2zM984 648h1v1h-1zM988 646h2v1h-2zM990 645h1v1h-1zM994 643h2v1h-2zM996 642h1v1h-1zM1000 640h2v1h-2zM1002 639h1v1h-1zM1006 637h2v1h-2zM1008 636h1v1h-1zM1012 635h2v1h-2zM1014 634h1v1h-1zM1018 633h3v1h-3zM1024 633h3v1h-3zM1030 634h2v1h-2zM1032 635h1v1h-1zM1036 636h3v1h-3zM1042 637h1v1h-1zM1043 638h2v1h-2zM1048 640h1v1h-1zM1049 641h2v1h-2zM1054 643h3v1h-3zM1060 644h1v1h-1zM1061 645h2v1h-2zM1066 646h3v1h-3zM1072 647h1v1h-1zM1073 648h2v1h-2zM1078 649h2v1h-2zM1080 650h1v1h-1zM1084 650h1v1h-1zM1085 651h2v1h-2zM1090 651h2v1h-2zM1092 652h1v1h-1zM1096 652h3v1h-3zM1102 652h3v1h-3zM1108 652h3v1h-3zM1114 652h3v1h-3zM1120 652h3v1h-3zM1126 652h3v1h-3zM1132 652h3v1h-3zM1138 652h3v1h-3zM1144 652h1v1h-1zM1145 653h1v1h-1zM1146 652h1v1h-1zM1150 652h3v1h-3zM1156 652h2v1h-2zM1158 651h1v1h-1zM1162 651h3v1h-3zM1168 651h2v1h-2zM1170 650h1v1h-1zM1174 650h3v1h-3zM1180 649h1v1h-1zM1181 648h2v1h-2zM1186 648h3v1h-3zM1192 648h3v1h-3zM1198 648h3v1h-3zM1204 648h3v1h-3zM1210 648h3v1h-3zM1216 648h1v1h-1zM1217 647h1v1h-1zM1218 648h1v1h-1zM1222 648h3v1h-3zM1228 649h3v1h-3zM1234 649h1v1h-1zM1235 650h2v1h-2zM1240 650h2v1h-2zM1242 651h1v1h-1zM1246 651h3v1h-3zM1252 652h3v1h-3zM1258 652h3v1h-3zM1264 652h2v1h-2zM1266 653h1v1h-1z" fill="#ff0000" shape-rendering="crispEdges"/>
<text x="8" y="638" font-size="10.0" fill="#000" stroke="#000" stroke-width="0.25" textLength="147.7" lengthAdjust="spacingAndGlyphs">MACD(12,26,9) 0.002635 0.003712</text>
<text x="1600" y="636" font-size="10.0" fill="#000" stroke="#000" stroke-width="0.25" textLength="38.5" lengthAdjust="spacingAndGlyphs">0.015741</text>
<text x="1600" y="666" font-size="10.0" fill="#000" stroke="#000" stroke-width="0.25" textLength="19.3" lengthAdjust="spacingAndGlyphs">0.00</text>
<text x="1600" y="714" font-size="10.0" fill="#000" stroke="#000" stroke-width="0.25" textLength="41.5" lengthAdjust="spacingAndGlyphs">-0.024411</text>
<g shape-rendering="crispEdges">
<rect x="4" y="718" width="1" height="3" fill="#000000"/>
<rect x="68" y="718" width="1" height="3" fill="#000000"/>
<rect x="132" y="718" width="1" height="3" fill="#000000"/>
<rect x="196" y="718" width="1" height="3" fill="#000000"/>
<rect x="260" y="718" width="1" height="3" fill="#000000"/>
<rect x="324" y="718" width="1" height="3" fill="#000000"/>
<rect x="388" y="718" width="1" height="3" fill="#000000"/>
<rect x="452" y="718" width="1" height="3" fill="#000000"/>
<rect x="516" y="718" width="1" height="3" fill="#000000"/>
<rect x="580" y="718" width="1" height="3" fill="#000000"/>
<rect x="644" y="718" width="1" height="3" fill="#000000"/>
<rect x="708" y="718" width="1" height="3" fill="#000000"/>
<rect x="772" y="718" width="1" height="3" fill="#000000"/>
<rect x="836" y="718" width="1" height="3" fill="#000000"/>
<rect x="900" y="718" width="1" height="3" fill="#000000"/>
<rect x="964" y="718" width="1" height="3" fill="#000000"/>
<rect x="1028" y="718" width="1" height="3" fill="#000000"/>
<rect x="1092" y="718" width="1" height="3" fill="#000000"/>
<rect x="1156" y="718" width="1" height="3" fill="#000000"/>
<rect x="1220" y="718" width="1" height="3" fill="#000000"/>
</g>
<text x="3" y="730" font-size="10.0" fill="#000" stroke="#000" stroke-width="0.25" textLength="52.5" lengthAdjust="spacingAndGlyphs">21 Aug 2019</text>
<text x="67" y="730" font-size="10.0" fill="#000" stroke="#000" stroke-width="0.25" textLength="47.8" lengthAdjust="spacingAndGlyphs">9 Sep 2019</text>
<text x="131" y="730" font-size="10.0" fill="#000" stroke="#000" stroke-width="0.25" textLength="53.0" lengthAdjust="spacingAndGlyphs">27 Sep 2019</text>
<text x="195" y="730" font-size="10.0" fill="#000" stroke="#000" stroke-width="0.25" textLength="50.9" lengthAdjust="spacingAndGlyphs">16 Oct 2019</text>
<text x="259" y="730" font-size="10.0" fill="#000" stroke="#000" stroke-width="0.25" textLength="47.8" lengthAdjust="spacingAndGlyphs">4 Nov 2019</text>
<text x="323" y="730" font-size="10.0" fill="#000" stroke="#000" stroke-width="0.25" textLength="53.0" lengthAdjust="spacingAndGlyphs">22 Nov 2019</text>
<text x="387" y="730" font-size="10.0" fill="#000" stroke="#000" stroke-width="0.25" textLength="52.3" lengthAdjust="spacingAndGlyphs">11 Dec 2019</text>
<text x="451" y="730" font-size="10.0" fill="#000" stroke="#000" stroke-width="0.25" textLength="53.0" lengthAdjust="spacingAndGlyphs">30 Dec 2019</text>
<text x="515" y="730" font-size="10.0" fill="#000" stroke="#000" stroke-width="0.25" textLength="51.5" lengthAdjust="spacingAndGlyphs">17 Jan 2020</text>
<text x="579" y="730" font-size="10.0" fill="#000" stroke="#000" stroke-width="0.25" textLength="47.3" lengthAdjust="spacingAndGlyphs">5 Feb 2020</text>
<text x="643" y="730" font-size="10.0" fill="#000" stroke="#000" stroke-width="0.25" textLength="52.5" lengthAdjust="spacingAndGlyphs">24 Feb 2020</text>
<text x="707" y="730" font-size="10.0" fill="#000" stroke="#000" stroke-width="0.25" textLength="52.5" lengthAdjust="spacingAndGlyphs">13 Mar 2020</text>
<text x="771" y="730" font-size="10.0" fill="#000" stroke="#000" stroke-width="0.25" textLength="45.2" lengthAdjust="spacingAndGlyphs">1 Apr 2020</text>
<text x="835" y="730" font-size="10.0" fill="#000" stroke="#000" stroke-width="0.25" textLength="50.4" lengthAdjust="spacingAndGlyphs">20 Apr 2020</text>
<text x="899" y="730" font-size="10.0" fill="#000" stroke="#000" stroke-width="0.25" textLength="48.9" lengthAdjust="spacingAndGlyphs">8 May 2020</text>
<text x="963" y="730" font-size="10.0" fill="#000" stroke="#000" stroke-width="0.25" textLength="54.1" lengthAdjust="spacingAndGlyphs">27 May 2020</text>
<text x="1027" y="730" font-size="10.0" fill="#000" stroke="#000" stroke-width="0.25" textLength="51.5" lengthAdjust="spacingAndGlyphs">15 Jun 2020</text>
<text x="1091" y="730" font-size="10.0" fill="#000" stroke="#000" stroke-width="0.25" textLength="43.1" lengthAdjust="spacingAndGlyphs">3 Jul 2020</text>
<text x="1155" y="730" font-size="10.0" fill="#000" stroke="#000" stroke-width="0.25" textLength="48.3" lengthAdjust="spacingAndGlyphs">22 Jul 2020</text>
<text x="1219" y="730" font-size="10.0" fill="#000" stroke="#000" stroke-width="0.25" textLength="52.5" lengthAdjust="spacingAndGlyphs">10 Aug 2020</text>
<text x="17.4" y="755" font-size="12.4" fill="#7d7d7d" textLength="79.6" lengthAdjust="spacingAndGlyphs">EURUSD,Daily</text>
<text x="119.3" y="755" font-size="12.4" fill="#7d7d7d" textLength="79.0" lengthAdjust="spacingAndGlyphs">USDCHF,Daily</text>
<text x="324.5" y="755" font-size="12.4" fill="#7d7d7d" textLength="80.3" lengthAdjust="spacingAndGlyphs">USDCAD,Daily</text>
<text x="426.9" y="755" font-size="12.4" fill="#7d7d7d" textLength="83.4" lengthAdjust="spacingAndGlyphs">USDCNH,Daily</text>
<text x="533.4" y="755" font-size="12.4" fill="#7d7d7d" textLength="79.5" lengthAdjust="spacingAndGlyphs">EURUSD,Daily</text>
<text x="637.3" y="755" font-size="12.4" fill="#7d7d7d" textLength="67.5" lengthAdjust="spacingAndGlyphs">GBPUSD,H4</text>
<text x="728.4" y="755" font-size="12.4" fill="#7d7d7d" textLength="68.7" lengthAdjust="spacingAndGlyphs">XAUUSD,H1</text>
<text x="820.5" y="755" font-size="12.4" fill="#7d7d7d" textLength="48.8" lengthAdjust="spacingAndGlyphs">HK50,H1</text>
<text x="892.4" y="755" font-size="12.4" fill="#7d7d7d" textLength="56.4" lengthAdjust="spacingAndGlyphs">UK100,H1</text>
<text x="972.4" y="755" font-size="12.4" fill="#7d7d7d" textLength="55.9" lengthAdjust="spacingAndGlyphs">UK100,H1</text>
<text x="1052.7" y="755" font-size="12.4" fill="#7d7d7d" textLength="55.2" lengthAdjust="spacingAndGlyphs">GER30,H1</text>
<text x="1131.5" y="755" font-size="12.4" fill="#7d7d7d" textLength="53.8" lengthAdjust="spacingAndGlyphs">FRA40,H1</text>
<text x="1207.4" y="755" font-size="12.4" fill="#7d7d7d" textLength="50.6" lengthAdjust="spacingAndGlyphs">USOil,H4</text>
<text x="1279.3" y="755" font-size="12.4" fill="#7d7d7d" textLength="62.6" lengthAdjust="spacingAndGlyphs">USDJPY,H1</text>
<text x="1363.2" y="755" font-size="12.4" fill="#7d7d7d" textLength="59.0" lengthAdjust="spacingAndGlyphs">DJ30,Daily</text>
<text x="1443.3" y="755" font-size="12.4" fill="#7d7d7d" textLength="78.5" lengthAdjust="spacingAndGlyphs">CHINA300,H1</text>
<text x="1543.3" y="755" font-size="12.4" fill="#7d7d7d" textLength="50.3" lengthAdjust="spacingAndGlyphs">USOil,H1</text>
<rect x="109" y="743" width="1" height="14" fill="#6a6a6a"/>
<rect x="416" y="743" width="1" height="14" fill="#6a6a6a"/>
<rect x="521" y="743" width="1" height="14" fill="#6a6a6a"/>
<rect x="625" y="743" width="1" height="14" fill="#6a6a6a"/>
<rect x="717" y="743" width="1" height="14" fill="#6a6a6a"/>
<rect x="809" y="743" width="1" height="14" fill="#6a6a6a"/>
<rect x="881" y="743" width="1" height="14" fill="#6a6a6a"/>
<rect x="961" y="743" width="1" height="14" fill="#6a6a6a"/>
<rect x="1041" y="743" width="1" height="14" fill="#6a6a6a"/>
<rect x="1121" y="743" width="1" height="14" fill="#6a6a6a"/>
<rect x="1197" y="743" width="1" height="14" fill="#6a6a6a"/>
<rect x="1269" y="743" width="1" height="14" fill="#6a6a6a"/>
<rect x="1353" y="743" width="1" height="14" fill="#6a6a6a"/>
<rect x="1433" y="743" width="1" height="14" fill="#6a6a6a"/>
<rect x="1533" y="743" width="1" height="14" fill="#6a6a6a"/>
<rect x="1605" y="743" width="1" height="14" fill="#6a6a6a"/>
<rect x="209" y="740" width="104" height="19" fill="#ffffff"/>
<rect x="209" y="740" width="1" height="19" fill="#000000"/>
<rect x="312" y="740" width="1" height="19" fill="#000000"/>
<rect x="209" y="758" width="104" height="1" fill="#000000"/>
<rect x="313" y="742" width="1" height="18" fill="#b0b0b0"/>
<rect x="211" y="759" width="103" height="1" fill="#b0b0b0"/>
<text x="220.1" y="755" font-size="12.4" fill="#000" textLength="82.1" lengthAdjust="spacingAndGlyphs">AUDUSD,Daily</text>
<path d="M1615 746 L1615 753 L1611.5 749.5 Z" fill="#a0a0a0"/>
<path d="M1631 746 L1631 753 L1634.5 749.5 Z" fill="#000"/></svg></body></html>
